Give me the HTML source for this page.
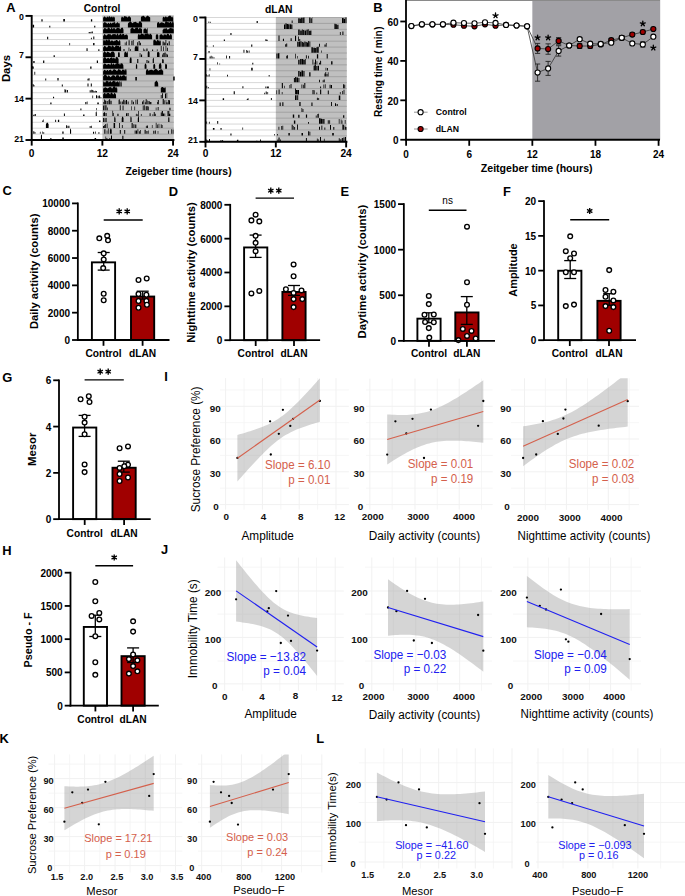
<!DOCTYPE html>
<html><head><meta charset="utf-8"><style>
html,body{margin:0;padding:0;background:#fff;width:685px;height:896px;overflow:hidden}
svg{display:block}
text{font-family:"Liberation Sans", sans-serif}
</style></head><body>
<svg width="685" height="896" viewBox="0 0 685 896" font-family='"Liberation Sans", sans-serif'><text x="6.30" y="11.60" font-size="12.9" font-weight="bold" text-anchor="start" fill="#000">A</text>
<text x="373.20" y="11.70" font-size="12.9" font-weight="bold" text-anchor="start" fill="#000">B</text>
<text x="2.50" y="195.40" font-size="12.9" font-weight="bold" text-anchor="start" fill="#000">C</text>
<text x="168.70" y="196.10" font-size="12.9" font-weight="bold" text-anchor="start" fill="#000">D</text>
<text x="340.50" y="196.10" font-size="12.9" font-weight="bold" text-anchor="start" fill="#000">E</text>
<text x="503.00" y="196.10" font-size="12.9" font-weight="bold" text-anchor="start" fill="#000">F</text>
<text x="2.30" y="381.50" font-size="12.9" font-weight="bold" text-anchor="start" fill="#000">G</text>
<text x="2.30" y="554.50" font-size="12.9" font-weight="bold" text-anchor="start" fill="#000">H</text>
<text x="164.30" y="381.00" font-size="12.9" font-weight="bold" text-anchor="start" fill="#000">I</text>
<text x="161.10" y="554.40" font-size="12.9" font-weight="bold" text-anchor="start" fill="#000">J</text>
<text x="-0.50" y="742.90" font-size="12.9" font-weight="bold" text-anchor="start" fill="#000">K</text>
<text x="316.30" y="742.90" font-size="12.9" font-weight="bold" text-anchor="start" fill="#000">L</text>
<rect x="91.90" y="262.35" width="23.20" height="77.65" fill="#fff" stroke="#000" stroke-width="1.9"/>
<rect x="131.00" y="296.55" width="23.20" height="43.45" fill="#a00000" stroke="#000" stroke-width="1.9"/>
<line x1="103.70" y1="252.50" x2="103.70" y2="270.10" stroke="#000" stroke-width="1.3"/>
<line x1="97.70" y1="252.50" x2="109.70" y2="252.50" stroke="#000" stroke-width="1.3"/>
<line x1="97.70" y1="270.10" x2="109.70" y2="270.10" stroke="#000" stroke-width="1.3"/>
<line x1="142.70" y1="291.20" x2="142.70" y2="299.10" stroke="#000" stroke-width="1.3"/>
<line x1="136.70" y1="291.20" x2="148.70" y2="291.20" stroke="#000" stroke-width="1.3"/>
<line x1="136.70" y1="299.10" x2="148.70" y2="299.10" stroke="#000" stroke-width="1.3"/>
<circle cx="99.30" cy="238.30" r="2.35" fill="#fff" stroke="#000" stroke-width="1.35"/>
<circle cx="107.20" cy="235.80" r="2.35" fill="#fff" stroke="#000" stroke-width="1.35"/>
<circle cx="108.00" cy="240.30" r="2.35" fill="#fff" stroke="#000" stroke-width="1.35"/>
<circle cx="103.70" cy="253.40" r="2.35" fill="#fff" stroke="#000" stroke-width="1.35"/>
<circle cx="103.70" cy="259.40" r="2.35" fill="#fff" stroke="#000" stroke-width="1.35"/>
<circle cx="103.20" cy="268.10" r="2.35" fill="#fff" stroke="#000" stroke-width="1.35"/>
<circle cx="103.70" cy="293.70" r="2.35" fill="#fff" stroke="#000" stroke-width="1.35"/>
<circle cx="103.70" cy="300.30" r="2.35" fill="#fff" stroke="#000" stroke-width="1.35"/>
<circle cx="138.50" cy="280.00" r="2.35" fill="#fff" stroke="#000" stroke-width="1.35"/>
<circle cx="146.70" cy="278.50" r="2.35" fill="#fff" stroke="#000" stroke-width="1.35"/>
<circle cx="138.50" cy="294.00" r="2.35" fill="#fff" stroke="#000" stroke-width="1.35"/>
<circle cx="146.40" cy="294.70" r="2.35" fill="#fff" stroke="#000" stroke-width="1.35"/>
<circle cx="138.50" cy="301.00" r="2.35" fill="#fff" stroke="#000" stroke-width="1.35"/>
<circle cx="146.40" cy="301.00" r="2.35" fill="#fff" stroke="#000" stroke-width="1.35"/>
<circle cx="138.50" cy="307.80" r="2.35" fill="#fff" stroke="#000" stroke-width="1.35"/>
<circle cx="146.90" cy="304.80" r="2.35" fill="#fff" stroke="#000" stroke-width="1.35"/>
<line x1="77.85" y1="202.50" x2="77.85" y2="340.90" stroke="#000" stroke-width="1.8"/>
<line x1="76.95" y1="340.00" x2="169.50" y2="340.00" stroke="#000" stroke-width="1.8"/>
<line x1="72.05" y1="340.00" x2="77.85" y2="340.00" stroke="#000" stroke-width="1.8"/>
<text x="70.05" y="343.98" font-size="10" font-weight="bold" text-anchor="end" fill="#000">0</text>
<line x1="72.05" y1="312.68" x2="77.85" y2="312.68" stroke="#000" stroke-width="1.8"/>
<text x="70.05" y="316.66" font-size="10" font-weight="bold" text-anchor="end" fill="#000">2000</text>
<line x1="72.05" y1="285.36" x2="77.85" y2="285.36" stroke="#000" stroke-width="1.8"/>
<text x="70.05" y="289.34" font-size="10" font-weight="bold" text-anchor="end" fill="#000">4000</text>
<line x1="72.05" y1="258.04" x2="77.85" y2="258.04" stroke="#000" stroke-width="1.8"/>
<text x="70.05" y="262.02" font-size="10" font-weight="bold" text-anchor="end" fill="#000">6000</text>
<line x1="72.05" y1="230.72" x2="77.85" y2="230.72" stroke="#000" stroke-width="1.8"/>
<text x="70.05" y="234.70" font-size="10" font-weight="bold" text-anchor="end" fill="#000">8000</text>
<line x1="72.05" y1="203.40" x2="77.85" y2="203.40" stroke="#000" stroke-width="1.8"/>
<text x="70.05" y="207.38" font-size="10" font-weight="bold" text-anchor="end" fill="#000">10000</text>
<line x1="103.50" y1="340.00" x2="103.50" y2="345.80" stroke="#000" stroke-width="1.8"/>
<text x="103.50" y="356.75" font-size="10.2" font-weight="bold" text-anchor="middle" fill="#000">Control</text>
<line x1="142.60" y1="340.00" x2="142.60" y2="345.80" stroke="#000" stroke-width="1.8"/>
<text x="142.60" y="356.75" font-size="10.2" font-weight="bold" text-anchor="middle" fill="#000">dLAN</text>
<line x1="103.70" y1="220.00" x2="142.70" y2="220.00" stroke="#000" stroke-width="1.4"/>
<path d="M119.20 208.30L119.20 214.50M116.52 209.85L121.88 212.95M121.88 209.85L116.52 212.95" stroke="#000" stroke-width="1.35" fill="none"/>
<path d="M127.20 208.30L127.20 214.50M124.52 209.85L129.88 212.95M129.88 209.85L124.52 212.95" stroke="#000" stroke-width="1.35" fill="none"/>
<text x="38.01" y="271.30" font-size="11.2" font-weight="bold" text-anchor="middle" fill="#000" transform="rotate(-90 38.01 271.30)">Daily activity (counts)</text>
<rect x="244.10" y="247.45" width="23.20" height="92.75" fill="#fff" stroke="#000" stroke-width="1.9"/>
<rect x="282.40" y="291.95" width="23.20" height="48.25" fill="#a00000" stroke="#000" stroke-width="1.9"/>
<line x1="255.60" y1="235.10" x2="255.60" y2="257.40" stroke="#000" stroke-width="1.3"/>
<line x1="249.60" y1="235.10" x2="261.60" y2="235.10" stroke="#000" stroke-width="1.3"/>
<line x1="249.60" y1="257.40" x2="261.60" y2="257.40" stroke="#000" stroke-width="1.3"/>
<line x1="294.00" y1="285.50" x2="294.00" y2="295.40" stroke="#000" stroke-width="1.3"/>
<line x1="288.00" y1="285.50" x2="300.00" y2="285.50" stroke="#000" stroke-width="1.3"/>
<line x1="288.00" y1="295.40" x2="300.00" y2="295.40" stroke="#000" stroke-width="1.3"/>
<circle cx="255.60" cy="214.70" r="2.35" fill="#fff" stroke="#000" stroke-width="1.35"/>
<circle cx="251.40" cy="220.40" r="2.35" fill="#fff" stroke="#000" stroke-width="1.35"/>
<circle cx="259.30" cy="221.40" r="2.35" fill="#fff" stroke="#000" stroke-width="1.35"/>
<circle cx="255.60" cy="235.80" r="2.35" fill="#fff" stroke="#000" stroke-width="1.35"/>
<circle cx="255.60" cy="242.80" r="2.35" fill="#fff" stroke="#000" stroke-width="1.35"/>
<circle cx="255.60" cy="251.20" r="2.35" fill="#fff" stroke="#000" stroke-width="1.35"/>
<circle cx="251.40" cy="293.40" r="2.35" fill="#fff" stroke="#000" stroke-width="1.35"/>
<circle cx="259.30" cy="290.90" r="2.35" fill="#fff" stroke="#000" stroke-width="1.35"/>
<circle cx="293.60" cy="264.40" r="2.35" fill="#fff" stroke="#000" stroke-width="1.35"/>
<circle cx="293.60" cy="276.30" r="2.35" fill="#fff" stroke="#000" stroke-width="1.35"/>
<circle cx="285.90" cy="289.20" r="2.35" fill="#fff" stroke="#000" stroke-width="1.35"/>
<circle cx="293.60" cy="292.90" r="2.35" fill="#fff" stroke="#000" stroke-width="1.35"/>
<circle cx="301.50" cy="290.40" r="2.35" fill="#fff" stroke="#000" stroke-width="1.35"/>
<circle cx="293.60" cy="299.10" r="2.35" fill="#fff" stroke="#000" stroke-width="1.35"/>
<circle cx="302.30" cy="299.10" r="2.35" fill="#fff" stroke="#000" stroke-width="1.35"/>
<circle cx="293.60" cy="307.10" r="2.35" fill="#fff" stroke="#000" stroke-width="1.35"/>
<line x1="230.20" y1="203.90" x2="230.20" y2="341.10" stroke="#000" stroke-width="1.8"/>
<line x1="229.30" y1="340.20" x2="320.10" y2="340.20" stroke="#000" stroke-width="1.8"/>
<line x1="224.40" y1="340.20" x2="230.20" y2="340.20" stroke="#000" stroke-width="1.8"/>
<text x="222.40" y="344.18" font-size="10" font-weight="bold" text-anchor="end" fill="#000">0</text>
<line x1="224.40" y1="306.35" x2="230.20" y2="306.35" stroke="#000" stroke-width="1.8"/>
<text x="222.40" y="310.33" font-size="10" font-weight="bold" text-anchor="end" fill="#000">2000</text>
<line x1="224.40" y1="272.50" x2="230.20" y2="272.50" stroke="#000" stroke-width="1.8"/>
<text x="222.40" y="276.48" font-size="10" font-weight="bold" text-anchor="end" fill="#000">4000</text>
<line x1="224.40" y1="238.65" x2="230.20" y2="238.65" stroke="#000" stroke-width="1.8"/>
<text x="222.40" y="242.63" font-size="10" font-weight="bold" text-anchor="end" fill="#000">6000</text>
<line x1="224.40" y1="204.80" x2="230.20" y2="204.80" stroke="#000" stroke-width="1.8"/>
<text x="222.40" y="208.78" font-size="10" font-weight="bold" text-anchor="end" fill="#000">8000</text>
<line x1="255.70" y1="340.20" x2="255.70" y2="346.00" stroke="#000" stroke-width="1.8"/>
<text x="255.70" y="356.75" font-size="10.2" font-weight="bold" text-anchor="middle" fill="#000">Control</text>
<line x1="294.00" y1="340.20" x2="294.00" y2="346.00" stroke="#000" stroke-width="1.8"/>
<text x="294.00" y="356.75" font-size="10.2" font-weight="bold" text-anchor="middle" fill="#000">dLAN</text>
<line x1="255.60" y1="198.10" x2="294.00" y2="198.10" stroke="#000" stroke-width="1.4"/>
<path d="M270.80 187.60L270.80 193.80M268.12 189.15L273.48 192.25M273.48 189.15L268.12 192.25" stroke="#000" stroke-width="1.35" fill="none"/>
<path d="M278.80 187.60L278.80 193.80M276.12 189.15L281.48 192.25M281.48 189.15L276.12 192.25" stroke="#000" stroke-width="1.35" fill="none"/>
<text x="195.01" y="272.50" font-size="11.2" font-weight="bold" text-anchor="middle" fill="#000" transform="rotate(-90 195.01 272.50)">Nighttime activity (counts)</text>
<rect x="417.40" y="318.65" width="23.20" height="22.20" fill="#fff" stroke="#000" stroke-width="1.9"/>
<rect x="455.30" y="312.45" width="23.20" height="28.40" fill="#a00000" stroke="#000" stroke-width="1.9"/>
<line x1="428.80" y1="312.80" x2="428.80" y2="322.70" stroke="#000" stroke-width="1.3"/>
<line x1="422.80" y1="312.80" x2="434.80" y2="312.80" stroke="#000" stroke-width="1.3"/>
<line x1="422.80" y1="322.70" x2="434.80" y2="322.70" stroke="#000" stroke-width="1.3"/>
<line x1="466.80" y1="296.60" x2="466.80" y2="324.40" stroke="#000" stroke-width="1.3"/>
<line x1="460.80" y1="296.60" x2="472.80" y2="296.60" stroke="#000" stroke-width="1.3"/>
<line x1="460.80" y1="324.40" x2="472.80" y2="324.40" stroke="#000" stroke-width="1.3"/>
<circle cx="428.80" cy="295.90" r="2.35" fill="#fff" stroke="#000" stroke-width="1.35"/>
<circle cx="428.80" cy="304.10" r="2.35" fill="#fff" stroke="#000" stroke-width="1.35"/>
<circle cx="425.10" cy="322.00" r="2.35" fill="#fff" stroke="#000" stroke-width="1.35"/>
<circle cx="433.80" cy="314.50" r="2.35" fill="#fff" stroke="#000" stroke-width="1.35"/>
<circle cx="433.80" cy="322.20" r="2.35" fill="#fff" stroke="#000" stroke-width="1.35"/>
<circle cx="428.80" cy="328.10" r="2.35" fill="#fff" stroke="#000" stroke-width="1.35"/>
<circle cx="429.30" cy="337.60" r="2.35" fill="#fff" stroke="#000" stroke-width="1.35"/>
<circle cx="424.50" cy="314.70" r="2.35" fill="#fff" stroke="#000" stroke-width="1.35"/>
<circle cx="467.00" cy="226.70" r="2.35" fill="#fff" stroke="#000" stroke-width="1.35"/>
<circle cx="467.00" cy="282.30" r="2.35" fill="#fff" stroke="#000" stroke-width="1.35"/>
<circle cx="467.00" cy="304.80" r="2.35" fill="#fff" stroke="#000" stroke-width="1.35"/>
<circle cx="462.80" cy="328.90" r="2.35" fill="#fff" stroke="#000" stroke-width="1.35"/>
<circle cx="471.50" cy="330.90" r="2.35" fill="#fff" stroke="#000" stroke-width="1.35"/>
<circle cx="467.00" cy="335.90" r="2.35" fill="#fff" stroke="#000" stroke-width="1.35"/>
<circle cx="458.40" cy="340.10" r="2.35" fill="#fff" stroke="#000" stroke-width="1.35"/>
<circle cx="475.70" cy="338.40" r="2.35" fill="#fff" stroke="#000" stroke-width="1.35"/>
<line x1="403.85" y1="203.20" x2="403.85" y2="341.75" stroke="#000" stroke-width="1.8"/>
<line x1="402.95" y1="340.85" x2="495.00" y2="340.85" stroke="#000" stroke-width="1.8"/>
<line x1="398.05" y1="340.85" x2="403.85" y2="340.85" stroke="#000" stroke-width="1.8"/>
<text x="396.05" y="344.83" font-size="10" font-weight="bold" text-anchor="end" fill="#000">0</text>
<line x1="398.05" y1="295.27" x2="403.85" y2="295.27" stroke="#000" stroke-width="1.8"/>
<text x="396.05" y="299.25" font-size="10" font-weight="bold" text-anchor="end" fill="#000">500</text>
<line x1="398.05" y1="249.68" x2="403.85" y2="249.68" stroke="#000" stroke-width="1.8"/>
<text x="396.05" y="253.66" font-size="10" font-weight="bold" text-anchor="end" fill="#000">1000</text>
<line x1="398.05" y1="204.10" x2="403.85" y2="204.10" stroke="#000" stroke-width="1.8"/>
<text x="396.05" y="208.08" font-size="10" font-weight="bold" text-anchor="end" fill="#000">1500</text>
<line x1="429.00" y1="340.85" x2="429.00" y2="346.65" stroke="#000" stroke-width="1.8"/>
<text x="429.00" y="356.75" font-size="10.2" font-weight="bold" text-anchor="middle" fill="#000">Control</text>
<line x1="466.90" y1="340.85" x2="466.90" y2="346.65" stroke="#000" stroke-width="1.8"/>
<text x="466.90" y="356.75" font-size="10.2" font-weight="bold" text-anchor="middle" fill="#000">dLAN</text>
<line x1="428.80" y1="210.30" x2="466.50" y2="210.30" stroke="#000" stroke-width="1.4"/>
<text x="447.65" y="203.58" font-size="10" text-anchor="middle" fill="#000">ns</text>
<text x="366.15" y="271.60" font-size="11.3" font-weight="bold" text-anchor="middle" fill="#000" transform="rotate(-90 366.15 271.60)">Daytime activity (counts)</text>
<rect x="558.20" y="270.75" width="23.20" height="69.45" fill="#fff" stroke="#000" stroke-width="1.9"/>
<rect x="597.40" y="300.85" width="23.20" height="39.35" fill="#a00000" stroke="#000" stroke-width="1.9"/>
<line x1="570.20" y1="260.60" x2="570.20" y2="278.50" stroke="#000" stroke-width="1.3"/>
<line x1="564.20" y1="260.60" x2="576.20" y2="260.60" stroke="#000" stroke-width="1.3"/>
<line x1="564.20" y1="278.50" x2="576.20" y2="278.50" stroke="#000" stroke-width="1.3"/>
<line x1="609.20" y1="293.70" x2="609.20" y2="305.30" stroke="#000" stroke-width="1.3"/>
<line x1="603.20" y1="293.70" x2="615.20" y2="293.70" stroke="#000" stroke-width="1.3"/>
<line x1="603.20" y1="305.30" x2="615.20" y2="305.30" stroke="#000" stroke-width="1.3"/>
<circle cx="570.20" cy="236.30" r="2.35" fill="#fff" stroke="#000" stroke-width="1.35"/>
<circle cx="565.80" cy="251.20" r="2.35" fill="#fff" stroke="#000" stroke-width="1.35"/>
<circle cx="574.00" cy="253.50" r="2.35" fill="#fff" stroke="#000" stroke-width="1.35"/>
<circle cx="570.20" cy="258.20" r="2.35" fill="#fff" stroke="#000" stroke-width="1.35"/>
<circle cx="565.80" cy="272.30" r="2.35" fill="#fff" stroke="#000" stroke-width="1.35"/>
<circle cx="574.00" cy="272.30" r="2.35" fill="#fff" stroke="#000" stroke-width="1.35"/>
<circle cx="565.80" cy="306.10" r="2.35" fill="#fff" stroke="#000" stroke-width="1.35"/>
<circle cx="574.00" cy="304.60" r="2.35" fill="#fff" stroke="#000" stroke-width="1.35"/>
<circle cx="609.20" cy="270.10" r="2.35" fill="#fff" stroke="#000" stroke-width="1.35"/>
<circle cx="605.50" cy="290.00" r="2.35" fill="#fff" stroke="#000" stroke-width="1.35"/>
<circle cx="613.40" cy="291.70" r="2.35" fill="#fff" stroke="#000" stroke-width="1.35"/>
<circle cx="605.50" cy="296.70" r="2.35" fill="#fff" stroke="#000" stroke-width="1.35"/>
<circle cx="613.40" cy="300.40" r="2.35" fill="#fff" stroke="#000" stroke-width="1.35"/>
<circle cx="605.50" cy="306.10" r="2.35" fill="#fff" stroke="#000" stroke-width="1.35"/>
<circle cx="613.40" cy="307.10" r="2.35" fill="#fff" stroke="#000" stroke-width="1.35"/>
<circle cx="609.20" cy="330.70" r="2.35" fill="#fff" stroke="#000" stroke-width="1.35"/>
<line x1="544.00" y1="200.20" x2="544.00" y2="341.10" stroke="#000" stroke-width="1.8"/>
<line x1="543.10" y1="340.20" x2="636.00" y2="340.20" stroke="#000" stroke-width="1.8"/>
<line x1="538.20" y1="340.20" x2="544.00" y2="340.20" stroke="#000" stroke-width="1.8"/>
<text x="536.20" y="344.18" font-size="10" font-weight="bold" text-anchor="end" fill="#000">0</text>
<line x1="538.20" y1="305.43" x2="544.00" y2="305.43" stroke="#000" stroke-width="1.8"/>
<text x="536.20" y="309.40" font-size="10" font-weight="bold" text-anchor="end" fill="#000">5</text>
<line x1="538.20" y1="270.65" x2="544.00" y2="270.65" stroke="#000" stroke-width="1.8"/>
<text x="536.20" y="274.63" font-size="10" font-weight="bold" text-anchor="end" fill="#000">10</text>
<line x1="538.20" y1="235.88" x2="544.00" y2="235.88" stroke="#000" stroke-width="1.8"/>
<text x="536.20" y="239.86" font-size="10" font-weight="bold" text-anchor="end" fill="#000">15</text>
<line x1="538.20" y1="201.10" x2="544.00" y2="201.10" stroke="#000" stroke-width="1.8"/>
<text x="536.20" y="205.08" font-size="10" font-weight="bold" text-anchor="end" fill="#000">20</text>
<line x1="569.80" y1="340.20" x2="569.80" y2="346.00" stroke="#000" stroke-width="1.8"/>
<text x="569.80" y="356.75" font-size="10.2" font-weight="bold" text-anchor="middle" fill="#000">Control</text>
<line x1="609.00" y1="340.20" x2="609.00" y2="346.00" stroke="#000" stroke-width="1.8"/>
<text x="609.00" y="356.75" font-size="10.2" font-weight="bold" text-anchor="middle" fill="#000">dLAN</text>
<line x1="570.20" y1="219.70" x2="609.20" y2="219.70" stroke="#000" stroke-width="1.4"/>
<path d="M589.70 207.90L589.70 214.10M587.02 209.45L592.38 212.55M592.38 209.45L587.02 212.55" stroke="#000" stroke-width="1.35" fill="none"/>
<text x="516.80" y="270.00" font-size="10.9" font-weight="bold" text-anchor="middle" fill="#000" transform="rotate(-90 516.80 270.00)">Amplitude</text>
<rect x="73.10" y="427.55" width="23.20" height="91.60" fill="#fff" stroke="#000" stroke-width="1.9"/>
<rect x="112.50" y="467.75" width="23.20" height="51.40" fill="#a00000" stroke="#000" stroke-width="1.9"/>
<line x1="84.60" y1="415.40" x2="84.60" y2="436.40" stroke="#000" stroke-width="1.3"/>
<line x1="78.60" y1="415.40" x2="90.60" y2="415.40" stroke="#000" stroke-width="1.3"/>
<line x1="78.60" y1="436.40" x2="90.60" y2="436.40" stroke="#000" stroke-width="1.3"/>
<line x1="123.80" y1="461.20" x2="123.80" y2="472.10" stroke="#000" stroke-width="1.3"/>
<line x1="117.80" y1="461.20" x2="129.80" y2="461.20" stroke="#000" stroke-width="1.3"/>
<line x1="117.80" y1="472.10" x2="129.80" y2="472.10" stroke="#000" stroke-width="1.3"/>
<circle cx="80.60" cy="399.30" r="2.35" fill="#fff" stroke="#000" stroke-width="1.35"/>
<circle cx="88.80" cy="396.20" r="2.35" fill="#fff" stroke="#000" stroke-width="1.35"/>
<circle cx="89.50" cy="402.00" r="2.35" fill="#fff" stroke="#000" stroke-width="1.35"/>
<circle cx="84.60" cy="416.80" r="2.35" fill="#fff" stroke="#000" stroke-width="1.35"/>
<circle cx="84.60" cy="422.60" r="2.35" fill="#fff" stroke="#000" stroke-width="1.35"/>
<circle cx="84.60" cy="434.30" r="2.35" fill="#fff" stroke="#000" stroke-width="1.35"/>
<circle cx="84.60" cy="464.40" r="2.35" fill="#fff" stroke="#000" stroke-width="1.35"/>
<circle cx="84.60" cy="472.10" r="2.35" fill="#fff" stroke="#000" stroke-width="1.35"/>
<circle cx="119.60" cy="448.30" r="2.35" fill="#fff" stroke="#000" stroke-width="1.35"/>
<circle cx="128.00" cy="446.40" r="2.35" fill="#fff" stroke="#000" stroke-width="1.35"/>
<circle cx="119.60" cy="467.90" r="2.35" fill="#fff" stroke="#000" stroke-width="1.35"/>
<circle cx="128.00" cy="464.70" r="2.35" fill="#fff" stroke="#000" stroke-width="1.35"/>
<circle cx="119.60" cy="474.00" r="2.35" fill="#fff" stroke="#000" stroke-width="1.35"/>
<circle cx="128.00" cy="477.50" r="2.35" fill="#fff" stroke="#000" stroke-width="1.35"/>
<circle cx="119.60" cy="481.00" r="2.35" fill="#fff" stroke="#000" stroke-width="1.35"/>
<circle cx="124.30" cy="466.30" r="2.35" fill="#fff" stroke="#000" stroke-width="1.35"/>
<line x1="59.00" y1="379.40" x2="59.00" y2="520.05" stroke="#000" stroke-width="1.8"/>
<line x1="58.10" y1="519.15" x2="150.70" y2="519.15" stroke="#000" stroke-width="1.8"/>
<line x1="53.20" y1="519.15" x2="59.00" y2="519.15" stroke="#000" stroke-width="1.8"/>
<text x="51.20" y="523.13" font-size="10" font-weight="bold" text-anchor="end" fill="#000">0</text>
<line x1="53.20" y1="472.87" x2="59.00" y2="472.87" stroke="#000" stroke-width="1.8"/>
<text x="51.20" y="476.85" font-size="10" font-weight="bold" text-anchor="end" fill="#000">2</text>
<line x1="53.20" y1="426.58" x2="59.00" y2="426.58" stroke="#000" stroke-width="1.8"/>
<text x="51.20" y="430.56" font-size="10" font-weight="bold" text-anchor="end" fill="#000">4</text>
<line x1="53.20" y1="380.30" x2="59.00" y2="380.30" stroke="#000" stroke-width="1.8"/>
<text x="51.20" y="384.28" font-size="10" font-weight="bold" text-anchor="end" fill="#000">6</text>
<line x1="84.70" y1="519.15" x2="84.70" y2="524.95" stroke="#000" stroke-width="1.8"/>
<text x="84.70" y="536.55" font-size="10.2" font-weight="bold" text-anchor="middle" fill="#000">Control</text>
<line x1="124.10" y1="519.15" x2="124.10" y2="524.95" stroke="#000" stroke-width="1.8"/>
<text x="124.10" y="536.55" font-size="10.2" font-weight="bold" text-anchor="middle" fill="#000">dLAN</text>
<line x1="84.60" y1="379.90" x2="123.80" y2="379.90" stroke="#000" stroke-width="1.4"/>
<path d="M100.20 368.60L100.20 374.80M97.52 370.15L102.88 373.25M102.88 370.15L97.52 373.25" stroke="#000" stroke-width="1.35" fill="none"/>
<path d="M108.20 368.60L108.20 374.80M105.52 370.15L110.88 373.25M110.88 370.15L105.52 373.25" stroke="#000" stroke-width="1.35" fill="none"/>
<text x="36.05" y="449.30" font-size="11.3" font-weight="bold" text-anchor="middle" fill="#000" transform="rotate(-90 36.05 449.30)">Mesor</text>
<rect x="83.80" y="626.95" width="23.20" height="78.70" fill="#fff" stroke="#000" stroke-width="1.9"/>
<rect x="121.50" y="656.15" width="23.20" height="49.50" fill="#a00000" stroke="#000" stroke-width="1.9"/>
<line x1="95.30" y1="615.20" x2="95.30" y2="636.50" stroke="#000" stroke-width="1.3"/>
<line x1="89.30" y1="615.20" x2="101.30" y2="615.20" stroke="#000" stroke-width="1.3"/>
<line x1="89.30" y1="636.50" x2="101.30" y2="636.50" stroke="#000" stroke-width="1.3"/>
<line x1="133.10" y1="647.90" x2="133.10" y2="662.50" stroke="#000" stroke-width="1.3"/>
<line x1="127.10" y1="647.90" x2="139.10" y2="647.90" stroke="#000" stroke-width="1.3"/>
<line x1="127.10" y1="662.50" x2="139.10" y2="662.50" stroke="#000" stroke-width="1.3"/>
<circle cx="95.30" cy="582.00" r="2.35" fill="#fff" stroke="#000" stroke-width="1.35"/>
<circle cx="95.30" cy="601.20" r="2.35" fill="#fff" stroke="#000" stroke-width="1.35"/>
<circle cx="91.60" cy="615.90" r="2.35" fill="#fff" stroke="#000" stroke-width="1.35"/>
<circle cx="99.30" cy="612.90" r="2.35" fill="#fff" stroke="#000" stroke-width="1.35"/>
<circle cx="99.30" cy="619.40" r="2.35" fill="#fff" stroke="#000" stroke-width="1.35"/>
<circle cx="95.30" cy="636.20" r="2.35" fill="#fff" stroke="#000" stroke-width="1.35"/>
<circle cx="95.30" cy="662.20" r="2.35" fill="#fff" stroke="#000" stroke-width="1.35"/>
<circle cx="95.30" cy="674.80" r="2.35" fill="#fff" stroke="#000" stroke-width="1.35"/>
<circle cx="133.10" cy="621.30" r="2.35" fill="#fff" stroke="#000" stroke-width="1.35"/>
<circle cx="133.10" cy="631.60" r="2.35" fill="#fff" stroke="#000" stroke-width="1.35"/>
<circle cx="133.10" cy="654.50" r="2.35" fill="#fff" stroke="#000" stroke-width="1.35"/>
<circle cx="128.90" cy="659.10" r="2.35" fill="#fff" stroke="#000" stroke-width="1.35"/>
<circle cx="137.40" cy="660.30" r="2.35" fill="#fff" stroke="#000" stroke-width="1.35"/>
<circle cx="133.10" cy="666.10" r="2.35" fill="#fff" stroke="#000" stroke-width="1.35"/>
<circle cx="128.90" cy="673.60" r="2.35" fill="#fff" stroke="#000" stroke-width="1.35"/>
<circle cx="137.40" cy="671.30" r="2.35" fill="#fff" stroke="#000" stroke-width="1.35"/>
<line x1="70.50" y1="571.80" x2="70.50" y2="706.55" stroke="#000" stroke-width="1.8"/>
<line x1="69.60" y1="705.65" x2="158.80" y2="705.65" stroke="#000" stroke-width="1.8"/>
<line x1="64.70" y1="705.65" x2="70.50" y2="705.65" stroke="#000" stroke-width="1.8"/>
<text x="62.70" y="709.63" font-size="10" font-weight="bold" text-anchor="end" fill="#000">0</text>
<line x1="64.70" y1="672.41" x2="70.50" y2="672.41" stroke="#000" stroke-width="1.8"/>
<text x="62.70" y="676.39" font-size="10" font-weight="bold" text-anchor="end" fill="#000">500</text>
<line x1="64.70" y1="639.17" x2="70.50" y2="639.17" stroke="#000" stroke-width="1.8"/>
<text x="62.70" y="643.15" font-size="10" font-weight="bold" text-anchor="end" fill="#000">1000</text>
<line x1="64.70" y1="605.94" x2="70.50" y2="605.94" stroke="#000" stroke-width="1.8"/>
<text x="62.70" y="609.92" font-size="10" font-weight="bold" text-anchor="end" fill="#000">1500</text>
<line x1="64.70" y1="572.70" x2="70.50" y2="572.70" stroke="#000" stroke-width="1.8"/>
<text x="62.70" y="576.68" font-size="10" font-weight="bold" text-anchor="end" fill="#000">2000</text>
<line x1="95.40" y1="705.65" x2="95.40" y2="711.45" stroke="#000" stroke-width="1.8"/>
<text x="95.40" y="722.65" font-size="10.2" font-weight="bold" text-anchor="middle" fill="#000">Control</text>
<line x1="133.10" y1="705.65" x2="133.10" y2="711.45" stroke="#000" stroke-width="1.8"/>
<text x="133.10" y="722.65" font-size="10.2" font-weight="bold" text-anchor="middle" fill="#000">dLAN</text>
<line x1="95.30" y1="565.70" x2="133.10" y2="565.70" stroke="#000" stroke-width="1.4"/>
<path d="M114.20 554.40L114.20 560.60M111.52 555.95L116.88 559.05M116.88 555.95L111.52 559.05" stroke="#000" stroke-width="1.35" fill="none"/>
<text x="32.47" y="639.90" font-size="10.8" font-weight="bold" text-anchor="middle" fill="#000" transform="rotate(-90 32.47 639.90)">Pseudo - F</text>
<rect x="532.34" y="0.00" width="127.84" height="139.75" fill="#a2a1a6" stroke="none" stroke-width="0"/>
<line x1="406.00" y1="0.50" x2="660.00" y2="0.50" stroke="#8a8a8a" stroke-width="1"/>
<line x1="537.60" y1="43.40" x2="537.60" y2="53.40" stroke="#222" stroke-width="0.9"/>
<line x1="535.00" y1="43.40" x2="540.20" y2="43.40" stroke="#222" stroke-width="0.9"/>
<line x1="535.00" y1="53.40" x2="540.20" y2="53.40" stroke="#222" stroke-width="0.9"/>
<line x1="548.12" y1="43.85" x2="548.12" y2="54.25" stroke="#222" stroke-width="0.9"/>
<line x1="545.52" y1="43.85" x2="550.72" y2="43.85" stroke="#222" stroke-width="0.9"/>
<line x1="545.52" y1="54.25" x2="550.72" y2="54.25" stroke="#222" stroke-width="0.9"/>
<line x1="558.64" y1="37.60" x2="558.64" y2="44.20" stroke="#222" stroke-width="0.9"/>
<line x1="556.04" y1="37.60" x2="561.24" y2="37.60" stroke="#222" stroke-width="0.9"/>
<line x1="556.04" y1="44.20" x2="561.24" y2="44.20" stroke="#222" stroke-width="0.9"/>
<line x1="569.16" y1="43.90" x2="569.16" y2="47.10" stroke="#222" stroke-width="0.9"/>
<line x1="566.56" y1="43.90" x2="571.76" y2="43.90" stroke="#222" stroke-width="0.9"/>
<line x1="566.56" y1="47.10" x2="571.76" y2="47.10" stroke="#222" stroke-width="0.9"/>
<line x1="579.68" y1="43.50" x2="579.68" y2="48.50" stroke="#222" stroke-width="0.9"/>
<line x1="577.08" y1="43.50" x2="582.28" y2="43.50" stroke="#222" stroke-width="0.9"/>
<line x1="577.08" y1="48.50" x2="582.28" y2="48.50" stroke="#222" stroke-width="0.9"/>
<line x1="590.20" y1="43.80" x2="590.20" y2="48.20" stroke="#222" stroke-width="0.9"/>
<line x1="587.60" y1="43.80" x2="592.80" y2="43.80" stroke="#222" stroke-width="0.9"/>
<line x1="587.60" y1="48.20" x2="592.80" y2="48.20" stroke="#222" stroke-width="0.9"/>
<line x1="600.72" y1="42.40" x2="600.72" y2="46.40" stroke="#222" stroke-width="0.9"/>
<line x1="598.12" y1="42.40" x2="603.32" y2="42.40" stroke="#222" stroke-width="0.9"/>
<line x1="598.12" y1="46.40" x2="603.32" y2="46.40" stroke="#222" stroke-width="0.9"/>
<line x1="611.24" y1="38.40" x2="611.24" y2="42.00" stroke="#222" stroke-width="0.9"/>
<line x1="608.64" y1="38.40" x2="613.84" y2="38.40" stroke="#222" stroke-width="0.9"/>
<line x1="608.64" y1="42.00" x2="613.84" y2="42.00" stroke="#222" stroke-width="0.9"/>
<line x1="621.76" y1="35.80" x2="621.76" y2="39.80" stroke="#222" stroke-width="0.9"/>
<line x1="619.16" y1="35.80" x2="624.36" y2="35.80" stroke="#222" stroke-width="0.9"/>
<line x1="619.16" y1="39.80" x2="624.36" y2="39.80" stroke="#222" stroke-width="0.9"/>
<line x1="632.28" y1="32.80" x2="632.28" y2="36.40" stroke="#222" stroke-width="0.9"/>
<line x1="629.68" y1="32.80" x2="634.88" y2="32.80" stroke="#222" stroke-width="0.9"/>
<line x1="629.68" y1="36.40" x2="634.88" y2="36.40" stroke="#222" stroke-width="0.9"/>
<line x1="642.80" y1="30.20" x2="642.80" y2="33.80" stroke="#222" stroke-width="0.9"/>
<line x1="640.20" y1="30.20" x2="645.40" y2="30.20" stroke="#222" stroke-width="0.9"/>
<line x1="640.20" y1="33.80" x2="645.40" y2="33.80" stroke="#222" stroke-width="0.9"/>
<line x1="537.60" y1="64.00" x2="537.60" y2="81.20" stroke="#222" stroke-width="0.9"/>
<line x1="535.00" y1="64.00" x2="540.20" y2="64.00" stroke="#222" stroke-width="0.9"/>
<line x1="535.00" y1="81.20" x2="540.20" y2="81.20" stroke="#222" stroke-width="0.9"/>
<line x1="548.12" y1="61.40" x2="548.12" y2="75.40" stroke="#222" stroke-width="0.9"/>
<line x1="545.52" y1="61.40" x2="550.72" y2="61.40" stroke="#222" stroke-width="0.9"/>
<line x1="545.52" y1="75.40" x2="550.72" y2="75.40" stroke="#222" stroke-width="0.9"/>
<line x1="558.64" y1="45.70" x2="558.64" y2="56.10" stroke="#222" stroke-width="0.9"/>
<line x1="556.04" y1="45.70" x2="561.24" y2="45.70" stroke="#222" stroke-width="0.9"/>
<line x1="556.04" y1="56.10" x2="561.24" y2="56.10" stroke="#222" stroke-width="0.9"/>
<line x1="569.16" y1="43.70" x2="569.16" y2="47.30" stroke="#222" stroke-width="0.9"/>
<line x1="566.56" y1="43.70" x2="571.76" y2="43.70" stroke="#222" stroke-width="0.9"/>
<line x1="566.56" y1="47.30" x2="571.76" y2="47.30" stroke="#222" stroke-width="0.9"/>
<line x1="579.68" y1="37.70" x2="579.68" y2="40.70" stroke="#222" stroke-width="0.9"/>
<line x1="577.08" y1="37.70" x2="582.28" y2="37.70" stroke="#222" stroke-width="0.9"/>
<line x1="577.08" y1="40.70" x2="582.28" y2="40.70" stroke="#222" stroke-width="0.9"/>
<line x1="590.20" y1="42.20" x2="590.20" y2="45.20" stroke="#222" stroke-width="0.9"/>
<line x1="587.60" y1="42.20" x2="592.80" y2="42.20" stroke="#222" stroke-width="0.9"/>
<line x1="587.60" y1="45.20" x2="592.80" y2="45.20" stroke="#222" stroke-width="0.9"/>
<line x1="600.72" y1="42.10" x2="600.72" y2="45.70" stroke="#222" stroke-width="0.9"/>
<line x1="598.12" y1="42.10" x2="603.32" y2="42.10" stroke="#222" stroke-width="0.9"/>
<line x1="598.12" y1="45.70" x2="603.32" y2="45.70" stroke="#222" stroke-width="0.9"/>
<line x1="611.24" y1="41.10" x2="611.24" y2="44.30" stroke="#222" stroke-width="0.9"/>
<line x1="608.64" y1="41.10" x2="613.84" y2="41.10" stroke="#222" stroke-width="0.9"/>
<line x1="608.64" y1="44.30" x2="613.84" y2="44.30" stroke="#222" stroke-width="0.9"/>
<line x1="621.76" y1="35.80" x2="621.76" y2="39.80" stroke="#222" stroke-width="0.9"/>
<line x1="619.16" y1="35.80" x2="624.36" y2="35.80" stroke="#222" stroke-width="0.9"/>
<line x1="619.16" y1="39.80" x2="624.36" y2="39.80" stroke="#222" stroke-width="0.9"/>
<line x1="632.28" y1="41.60" x2="632.28" y2="45.20" stroke="#222" stroke-width="0.9"/>
<line x1="629.68" y1="41.60" x2="634.88" y2="41.60" stroke="#222" stroke-width="0.9"/>
<line x1="629.68" y1="45.20" x2="634.88" y2="45.20" stroke="#222" stroke-width="0.9"/>
<line x1="642.80" y1="41.80" x2="642.80" y2="47.00" stroke="#222" stroke-width="0.9"/>
<line x1="640.20" y1="41.80" x2="645.40" y2="41.80" stroke="#222" stroke-width="0.9"/>
<line x1="640.20" y1="47.00" x2="645.40" y2="47.00" stroke="#222" stroke-width="0.9"/>
<path d="M411.36 26.00 L421.88 24.40 L432.40 24.40 L442.92 24.40 L453.44 24.70 L463.96 25.70 L474.48 26.30 L485.00 24.30 L495.52 25.70 L506.04 24.90 L516.56 25.50 L527.08 26.30 L537.60 48.40 L548.12 49.05 L558.64 40.90 L569.16 45.50 L579.68 46.00 L590.20 46.00 L600.72 44.40 L611.24 40.20 L621.76 37.80 L632.28 34.60 L642.80 32.00 L653.32 29.00" fill="none" stroke="#333" stroke-width="0.8"/>
<path d="M411.36 26.10 L421.88 24.30 L432.40 24.30 L442.92 24.30 L453.44 22.70 L463.96 23.10 L474.48 23.30 L485.00 22.30 L495.52 22.90 L506.04 24.90 L516.56 25.50 L527.08 26.30 L537.60 72.60 L548.12 68.40 L558.64 50.90 L569.16 45.50 L579.68 39.20 L590.20 43.70 L600.72 43.90 L611.24 42.70 L621.76 37.80 L632.28 43.40 L642.80 44.40 L653.32 36.70" fill="none" stroke="#333" stroke-width="0.8"/>
<circle cx="411.36" cy="26.00" r="2.55" fill="#a00000" stroke="#000" stroke-width="1.1"/>
<circle cx="421.88" cy="24.40" r="2.55" fill="#a00000" stroke="#000" stroke-width="1.1"/>
<circle cx="432.40" cy="24.40" r="2.55" fill="#a00000" stroke="#000" stroke-width="1.1"/>
<circle cx="442.92" cy="24.40" r="2.55" fill="#a00000" stroke="#000" stroke-width="1.1"/>
<circle cx="453.44" cy="24.70" r="2.55" fill="#a00000" stroke="#000" stroke-width="1.1"/>
<circle cx="463.96" cy="25.70" r="2.55" fill="#a00000" stroke="#000" stroke-width="1.1"/>
<circle cx="474.48" cy="26.30" r="2.55" fill="#a00000" stroke="#000" stroke-width="1.1"/>
<circle cx="485.00" cy="24.30" r="2.55" fill="#a00000" stroke="#000" stroke-width="1.1"/>
<circle cx="495.52" cy="25.70" r="2.55" fill="#a00000" stroke="#000" stroke-width="1.1"/>
<circle cx="506.04" cy="24.90" r="2.55" fill="#a00000" stroke="#000" stroke-width="1.1"/>
<circle cx="516.56" cy="25.50" r="2.55" fill="#a00000" stroke="#000" stroke-width="1.1"/>
<circle cx="527.08" cy="26.30" r="2.55" fill="#a00000" stroke="#000" stroke-width="1.1"/>
<circle cx="537.60" cy="48.40" r="2.55" fill="#a00000" stroke="#000" stroke-width="1.1"/>
<circle cx="548.12" cy="49.05" r="2.55" fill="#a00000" stroke="#000" stroke-width="1.1"/>
<circle cx="558.64" cy="40.90" r="2.55" fill="#a00000" stroke="#000" stroke-width="1.1"/>
<circle cx="569.16" cy="45.50" r="2.55" fill="#a00000" stroke="#000" stroke-width="1.1"/>
<circle cx="579.68" cy="46.00" r="2.55" fill="#a00000" stroke="#000" stroke-width="1.1"/>
<circle cx="590.20" cy="46.00" r="2.55" fill="#a00000" stroke="#000" stroke-width="1.1"/>
<circle cx="600.72" cy="44.40" r="2.55" fill="#a00000" stroke="#000" stroke-width="1.1"/>
<circle cx="611.24" cy="40.20" r="2.55" fill="#a00000" stroke="#000" stroke-width="1.1"/>
<circle cx="621.76" cy="37.80" r="2.55" fill="#a00000" stroke="#000" stroke-width="1.1"/>
<circle cx="632.28" cy="34.60" r="2.55" fill="#a00000" stroke="#000" stroke-width="1.1"/>
<circle cx="642.80" cy="32.00" r="2.55" fill="#a00000" stroke="#000" stroke-width="1.1"/>
<circle cx="653.32" cy="29.00" r="2.55" fill="#a00000" stroke="#000" stroke-width="1.1"/>
<circle cx="411.36" cy="26.10" r="2.55" fill="#fff" stroke="#000" stroke-width="1.1"/>
<circle cx="421.88" cy="24.30" r="2.55" fill="#fff" stroke="#000" stroke-width="1.1"/>
<circle cx="432.40" cy="24.30" r="2.55" fill="#fff" stroke="#000" stroke-width="1.1"/>
<circle cx="442.92" cy="24.30" r="2.55" fill="#fff" stroke="#000" stroke-width="1.1"/>
<circle cx="453.44" cy="22.70" r="2.55" fill="#fff" stroke="#000" stroke-width="1.1"/>
<circle cx="463.96" cy="23.10" r="2.55" fill="#fff" stroke="#000" stroke-width="1.1"/>
<circle cx="474.48" cy="23.30" r="2.55" fill="#fff" stroke="#000" stroke-width="1.1"/>
<circle cx="485.00" cy="22.30" r="2.55" fill="#fff" stroke="#000" stroke-width="1.1"/>
<circle cx="495.52" cy="22.90" r="2.55" fill="#fff" stroke="#000" stroke-width="1.1"/>
<circle cx="506.04" cy="24.90" r="2.55" fill="#fff" stroke="#000" stroke-width="1.1"/>
<circle cx="516.56" cy="25.50" r="2.55" fill="#fff" stroke="#000" stroke-width="1.1"/>
<circle cx="527.08" cy="26.30" r="2.55" fill="#fff" stroke="#000" stroke-width="1.1"/>
<circle cx="537.60" cy="72.60" r="2.55" fill="#fff" stroke="#000" stroke-width="1.1"/>
<circle cx="548.12" cy="68.40" r="2.55" fill="#fff" stroke="#000" stroke-width="1.1"/>
<circle cx="558.64" cy="50.90" r="2.55" fill="#fff" stroke="#000" stroke-width="1.1"/>
<circle cx="569.16" cy="45.50" r="2.55" fill="#fff" stroke="#000" stroke-width="1.1"/>
<circle cx="579.68" cy="39.20" r="2.55" fill="#fff" stroke="#000" stroke-width="1.1"/>
<circle cx="590.20" cy="43.70" r="2.55" fill="#fff" stroke="#000" stroke-width="1.1"/>
<circle cx="600.72" cy="43.90" r="2.55" fill="#fff" stroke="#000" stroke-width="1.1"/>
<circle cx="611.24" cy="42.70" r="2.55" fill="#fff" stroke="#000" stroke-width="1.1"/>
<circle cx="621.76" cy="37.80" r="2.55" fill="#fff" stroke="#000" stroke-width="1.1"/>
<circle cx="632.28" cy="43.40" r="2.55" fill="#fff" stroke="#000" stroke-width="1.1"/>
<circle cx="642.80" cy="44.40" r="2.55" fill="#fff" stroke="#000" stroke-width="1.1"/>
<circle cx="653.32" cy="36.70" r="2.55" fill="#fff" stroke="#000" stroke-width="1.1"/>
<path d="M495.52 15.56L495.52 12.96M495.52 15.56L497.99 14.76M495.52 15.56L497.05 17.66M495.52 15.56L493.99 17.66M495.52 15.56L493.05 14.76" stroke="#000" stroke-width="1.32" fill="none" stroke-linecap="round"/>
<path d="M537.60 37.66L537.60 35.06M537.60 37.66L540.07 36.86M537.60 37.66L539.13 39.76M537.60 37.66L536.07 39.76M537.60 37.66L535.13 36.86" stroke="#000" stroke-width="1.32" fill="none" stroke-linecap="round"/>
<path d="M548.12 37.66L548.12 35.06M548.12 37.66L550.59 36.86M548.12 37.66L549.65 39.76M548.12 37.66L546.59 39.76M548.12 37.66L545.65 36.86" stroke="#000" stroke-width="1.32" fill="none" stroke-linecap="round"/>
<path d="M642.80 23.66L642.80 21.06M642.80 23.66L645.27 22.86M642.80 23.66L644.33 25.76M642.80 23.66L641.27 25.76M642.80 23.66L640.33 22.86" stroke="#000" stroke-width="1.32" fill="none" stroke-linecap="round"/>
<path d="M653.32 47.86L653.32 45.26M653.32 47.86L655.79 47.06M653.32 47.86L654.85 49.96M653.32 47.86L651.79 49.96M653.32 47.86L650.85 47.06" stroke="#000" stroke-width="1.32" fill="none" stroke-linecap="round"/>
<line x1="406.00" y1="0.00" x2="406.00" y2="140.60" stroke="#000" stroke-width="1.8"/>
<line x1="405.10" y1="139.75" x2="660.00" y2="139.75" stroke="#000" stroke-width="1.8"/>
<line x1="400.30" y1="139.75" x2="406.00" y2="139.75" stroke="#000" stroke-width="1.8"/>
<text x="398.60" y="143.93" font-size="10" font-weight="bold" text-anchor="end" fill="#000">0</text>
<line x1="400.30" y1="100.33" x2="406.00" y2="100.33" stroke="#000" stroke-width="1.8"/>
<text x="398.60" y="104.51" font-size="10" font-weight="bold" text-anchor="end" fill="#000">20</text>
<line x1="400.30" y1="60.91" x2="406.00" y2="60.91" stroke="#000" stroke-width="1.8"/>
<text x="398.60" y="65.09" font-size="10" font-weight="bold" text-anchor="end" fill="#000">40</text>
<line x1="400.30" y1="21.49" x2="406.00" y2="21.49" stroke="#000" stroke-width="1.8"/>
<text x="398.60" y="25.67" font-size="10" font-weight="bold" text-anchor="end" fill="#000">60</text>
<line x1="406.10" y1="139.75" x2="406.10" y2="145.80" stroke="#000" stroke-width="1.8"/>
<text x="406.10" y="157.98" font-size="10" font-weight="bold" text-anchor="middle" fill="#000">0</text>
<line x1="469.22" y1="139.75" x2="469.22" y2="145.80" stroke="#000" stroke-width="1.8"/>
<text x="469.22" y="157.98" font-size="10" font-weight="bold" text-anchor="middle" fill="#000">6</text>
<line x1="532.34" y1="139.75" x2="532.34" y2="145.80" stroke="#000" stroke-width="1.8"/>
<text x="532.34" y="157.98" font-size="10" font-weight="bold" text-anchor="middle" fill="#000">12</text>
<line x1="595.46" y1="139.75" x2="595.46" y2="145.80" stroke="#000" stroke-width="1.8"/>
<text x="595.46" y="157.98" font-size="10" font-weight="bold" text-anchor="middle" fill="#000">18</text>
<line x1="658.58" y1="139.75" x2="658.58" y2="145.80" stroke="#000" stroke-width="1.8"/>
<text x="658.58" y="157.98" font-size="10" font-weight="bold" text-anchor="middle" fill="#000">24</text>
<text x="536.70" y="172.29" font-size="10.6" font-weight="bold" text-anchor="middle" fill="#000">Zeitgeber time (hours)</text>
<text transform="translate(382.3 116.9) rotate(-90)" font-size="10.05" font-weight="bold">Resting time<tspan dx="2.8">(</tspan><tspan dx="2.2">min</tspan><tspan dx="0.6">)</tspan></text>
<line x1="414.00" y1="112.20" x2="427.60" y2="112.20" stroke="#888" stroke-width="0.9"/>
<circle cx="420.60" cy="112.20" r="2.55" fill="#fff" stroke="#000" stroke-width="1.1"/>
<line x1="414.00" y1="129.00" x2="427.60" y2="129.00" stroke="#888" stroke-width="0.9"/>
<circle cx="420.60" cy="129.00" r="2.55" fill="#a00000" stroke="#000" stroke-width="1.1"/>
<text x="435.80" y="115.31" font-size="8.7" font-weight="bold" text-anchor="start" fill="#000">Control</text>
<text x="435.80" y="132.11" font-size="8.7" font-weight="bold" text-anchor="start" fill="#000">dLAN</text>
<rect x="102.38" y="15.90" width="71.42" height="124.11" fill="#c0c0c0" stroke="none" stroke-width="0"/>
<line x1="31.70" y1="15.90" x2="102.38" y2="15.90" stroke="#cdcdcd" stroke-width="0.8"/>
<line x1="102.38" y1="15.90" x2="173.80" y2="15.90" stroke="#9a9a9a" stroke-width="0.8"/>
<line x1="31.70" y1="21.81" x2="102.38" y2="21.81" stroke="#cdcdcd" stroke-width="0.8"/>
<line x1="102.38" y1="21.81" x2="173.80" y2="21.81" stroke="#9a9a9a" stroke-width="0.8"/>
<line x1="31.70" y1="27.72" x2="102.38" y2="27.72" stroke="#cdcdcd" stroke-width="0.8"/>
<line x1="102.38" y1="27.72" x2="173.80" y2="27.72" stroke="#9a9a9a" stroke-width="0.8"/>
<line x1="31.70" y1="33.63" x2="102.38" y2="33.63" stroke="#cdcdcd" stroke-width="0.8"/>
<line x1="102.38" y1="33.63" x2="173.80" y2="33.63" stroke="#9a9a9a" stroke-width="0.8"/>
<line x1="31.70" y1="39.54" x2="102.38" y2="39.54" stroke="#cdcdcd" stroke-width="0.8"/>
<line x1="102.38" y1="39.54" x2="173.80" y2="39.54" stroke="#9a9a9a" stroke-width="0.8"/>
<line x1="31.70" y1="45.45" x2="102.38" y2="45.45" stroke="#cdcdcd" stroke-width="0.8"/>
<line x1="102.38" y1="45.45" x2="173.80" y2="45.45" stroke="#9a9a9a" stroke-width="0.8"/>
<line x1="31.70" y1="51.36" x2="102.38" y2="51.36" stroke="#cdcdcd" stroke-width="0.8"/>
<line x1="102.38" y1="51.36" x2="173.80" y2="51.36" stroke="#9a9a9a" stroke-width="0.8"/>
<line x1="31.70" y1="57.27" x2="102.38" y2="57.27" stroke="#cdcdcd" stroke-width="0.8"/>
<line x1="102.38" y1="57.27" x2="173.80" y2="57.27" stroke="#9a9a9a" stroke-width="0.8"/>
<line x1="31.70" y1="63.18" x2="102.38" y2="63.18" stroke="#cdcdcd" stroke-width="0.8"/>
<line x1="102.38" y1="63.18" x2="173.80" y2="63.18" stroke="#9a9a9a" stroke-width="0.8"/>
<line x1="31.70" y1="69.09" x2="102.38" y2="69.09" stroke="#cdcdcd" stroke-width="0.8"/>
<line x1="102.38" y1="69.09" x2="173.80" y2="69.09" stroke="#9a9a9a" stroke-width="0.8"/>
<line x1="31.70" y1="75.00" x2="102.38" y2="75.00" stroke="#cdcdcd" stroke-width="0.8"/>
<line x1="102.38" y1="75.00" x2="173.80" y2="75.00" stroke="#9a9a9a" stroke-width="0.8"/>
<line x1="31.70" y1="80.91" x2="102.38" y2="80.91" stroke="#cdcdcd" stroke-width="0.8"/>
<line x1="102.38" y1="80.91" x2="173.80" y2="80.91" stroke="#9a9a9a" stroke-width="0.8"/>
<line x1="31.70" y1="86.82" x2="102.38" y2="86.82" stroke="#cdcdcd" stroke-width="0.8"/>
<line x1="102.38" y1="86.82" x2="173.80" y2="86.82" stroke="#9a9a9a" stroke-width="0.8"/>
<line x1="31.70" y1="92.73" x2="102.38" y2="92.73" stroke="#cdcdcd" stroke-width="0.8"/>
<line x1="102.38" y1="92.73" x2="173.80" y2="92.73" stroke="#9a9a9a" stroke-width="0.8"/>
<line x1="31.70" y1="98.64" x2="102.38" y2="98.64" stroke="#cdcdcd" stroke-width="0.8"/>
<line x1="102.38" y1="98.64" x2="173.80" y2="98.64" stroke="#9a9a9a" stroke-width="0.8"/>
<line x1="31.70" y1="104.55" x2="102.38" y2="104.55" stroke="#cdcdcd" stroke-width="0.8"/>
<line x1="102.38" y1="104.55" x2="173.80" y2="104.55" stroke="#9a9a9a" stroke-width="0.8"/>
<line x1="31.70" y1="110.46" x2="102.38" y2="110.46" stroke="#cdcdcd" stroke-width="0.8"/>
<line x1="102.38" y1="110.46" x2="173.80" y2="110.46" stroke="#9a9a9a" stroke-width="0.8"/>
<line x1="31.70" y1="116.37" x2="102.38" y2="116.37" stroke="#cdcdcd" stroke-width="0.8"/>
<line x1="102.38" y1="116.37" x2="173.80" y2="116.37" stroke="#9a9a9a" stroke-width="0.8"/>
<line x1="31.70" y1="122.28" x2="102.38" y2="122.28" stroke="#cdcdcd" stroke-width="0.8"/>
<line x1="102.38" y1="122.28" x2="173.80" y2="122.28" stroke="#9a9a9a" stroke-width="0.8"/>
<line x1="31.70" y1="128.19" x2="102.38" y2="128.19" stroke="#cdcdcd" stroke-width="0.8"/>
<line x1="102.38" y1="128.19" x2="173.80" y2="128.19" stroke="#9a9a9a" stroke-width="0.8"/>
<line x1="31.70" y1="134.10" x2="102.38" y2="134.10" stroke="#cdcdcd" stroke-width="0.8"/>
<line x1="102.38" y1="134.10" x2="173.80" y2="134.10" stroke="#9a9a9a" stroke-width="0.8"/>
<line x1="31.70" y1="140.01" x2="102.38" y2="140.01" stroke="#cdcdcd" stroke-width="0.8"/>
<line x1="102.38" y1="140.01" x2="173.80" y2="140.01" stroke="#9a9a9a" stroke-width="0.8"/>
<path d="M103.1 21.5L103.1 17.8L103.7 17.3L104.3 16.4L104.9 16.6L105.6 17.3L106.2 17.9L106.2 18.1L106.9 16.8L107.6 16.4L108.3 17.5L108.3 17.8L108.9 16.3L109.5 16.3L110.2 16.8L110.8 17.6L110.8 17.7L111.5 16.4L112.2 16.4L112.9 17.7L112.9 17.9L113.6 16.4L114.2 16.7L114.9 17.9L114.9 21.5zM121.1 21.5L121.1 18.2L121.8 16.5L122.5 16.7L123.3 18.1L123.3 17.9L123.9 16.5L124.6 16.1L125.3 16.4L126.0 16.2L126.6 16.8L127.3 17.5L127.3 17.5L127.9 17.3L128.5 16.5L129.2 16.1L129.8 16.8L130.4 16.9L131.0 18.2L131.0 21.5zM140.9 21.5L140.9 17.5L141.5 16.3L142.1 16.4L142.8 15.7L143.4 15.8L144.0 16.1L144.6 16.7L145.2 17.3L145.2 17.6L145.9 17.3L146.5 16.3L147.1 16.1L147.7 15.6L148.3 15.9L149.0 16.7L149.6 17.0L150.2 17.6L150.2 21.5zM162.6 21.5L162.6 18.0L163.3 16.7L164.0 16.8L164.7 17.6L164.7 18.0L165.3 16.3L165.9 16.8L166.5 16.7L167.1 17.8L167.1 17.2L167.8 16.9L168.4 16.3L169.1 16.1L169.7 15.4L170.3 15.4L171.0 16.6L171.6 17.0L172.2 17.7L172.2 17.7L172.5 16.5L172.9 16.8L173.2 17.8L173.2 21.5zM41.4 21.5h1.2v-2.2h-1.2zM63.3 21.5h1.6v-2.4h-1.6zM90.9 21.5h1.3v-2.3h-1.3zM103.1 27.4L103.1 23.6L103.7 22.8L104.3 22.3L104.9 22.2L105.6 22.6L106.2 22.7L106.8 23.4L107.4 23.8L107.4 24.1L108.2 22.9L108.9 22.7L109.6 24.2L109.6 24.1L110.3 22.6L111.0 22.9L111.6 23.6L111.6 24.0L112.3 23.1L113.0 22.6L113.7 22.7L114.4 22.1L115.1 22.5L115.8 23.9L115.8 24.2L116.4 23.1L117.0 22.8L117.6 22.1L118.3 22.9L118.9 23.4L119.5 23.6L119.5 23.8L119.6 22.9L119.7 22.5L119.8 23.5L119.8 27.4zM127.9 27.4L127.9 23.7L128.5 22.8L129.1 22.6L129.8 21.7L130.4 21.8L131.0 21.7L131.6 22.4L132.3 22.9L132.9 23.3L132.9 23.2L133.5 22.3L134.1 21.9L134.7 22.2L135.3 21.7L135.9 21.9L136.5 22.4L137.1 22.7L137.7 22.9L138.3 23.6L138.3 23.4L139.0 21.9L139.6 21.3L140.2 21.1L140.9 22.0L141.5 22.6L142.1 23.6L142.1 27.4zM157.0 27.4L157.0 23.7L157.7 22.2L158.4 22.0L159.1 22.6L159.7 23.7L159.7 23.8L160.4 22.7L161.1 22.4L161.8 22.2L162.5 22.4L163.2 22.9L163.8 22.8L164.5 24.0L164.5 23.4L165.1 22.6L165.7 21.5L166.3 21.5L166.9 22.0L167.5 22.1L168.1 22.4L168.7 22.1L169.3 23.1L169.3 23.1L170.0 21.9L170.6 21.9L171.2 22.1L171.8 23.7L171.8 23.2L172.5 21.8L173.1 21.3L173.8 23.4L173.8 27.4zM32.6 27.4h1.5v-2.6h-1.5zM49.3 27.4h1.0v-1.7h-1.0zM94.2 27.4h1.1v-1.7h-1.1zM103.1 33.3L103.1 29.8L103.7 29.1L104.4 27.9L105.1 28.3L105.8 28.3L106.4 28.7L107.1 29.4L107.1 29.3L107.8 28.1L108.5 27.6L109.2 28.2L109.9 28.2L110.6 29.5L110.6 29.6L111.3 27.9L111.9 27.6L112.6 29.3L112.6 29.5L113.2 28.1L113.9 28.4L114.5 27.9L115.1 28.7L115.7 29.7L115.7 29.5L116.4 28.4L117.1 27.8L117.8 28.0L118.4 27.9L119.1 28.2L119.8 28.6L120.4 29.4L120.4 29.5L121.1 28.0L121.7 27.8L122.3 27.6L122.9 28.0L123.5 29.7L123.5 33.3zM130.4 33.3L130.4 29.0L131.0 28.6L131.7 28.1L132.3 27.6L133.0 28.2L133.7 28.5L134.3 29.6L134.3 29.1L134.9 28.8L135.6 27.7L136.2 27.6L136.8 28.1L137.4 27.6L138.0 28.0L138.7 29.6L138.7 29.6L139.4 28.1L140.1 27.7L140.8 28.4L141.4 28.6L142.1 29.6L142.1 33.3zM143.4 33.3L143.4 29.9L144.0 28.5L144.7 28.7L145.3 28.2L145.9 28.7L146.6 30.1L146.6 29.5L147.0 28.5L147.3 27.5L147.7 29.3L147.7 33.3zM162.6 33.3L162.6 30.0L163.2 29.5L163.8 28.4L164.4 28.6L165.0 28.7L165.6 28.4L166.2 28.0L166.8 28.4L167.4 29.3L168.0 30.0L168.0 29.4L168.7 29.1L169.3 28.7L170.0 27.8L170.6 28.0L171.3 28.4L171.9 27.8L172.6 28.6L173.2 29.3L173.2 29.7L173.4 27.4L173.6 27.8L173.8 29.5L173.8 33.3zM88.7 33.3h0.9v-1.4h-0.9zM89.7 33.3h0.9v-1.1h-0.9zM90.8 33.3h0.6v-1.5h-0.6zM91.8 33.3h1.0v-1.8h-1.0zM103.1 39.2L103.1 35.9L103.7 35.2L104.4 34.1L105.0 34.3L105.6 35.0L106.3 35.8L106.3 35.5L106.9 35.0L107.6 34.5L108.3 33.9L108.9 34.3L109.6 34.3L110.2 34.3L110.9 34.5L111.6 35.8L111.6 35.2L112.2 34.6L112.8 34.2L113.4 34.2L114.0 34.1L114.6 34.2L115.2 33.8L115.8 34.7L116.5 35.6L116.5 35.0L117.2 33.5L118.0 34.0L118.8 35.5L118.8 35.7L119.4 34.4L120.0 34.2L120.6 33.5L121.2 33.9L121.8 35.4L121.8 35.3L122.5 34.0L123.2 34.0L123.9 33.9L124.6 35.2L124.6 35.6L125.3 35.0L125.9 34.4L126.6 34.6L127.2 34.7L127.9 36.0L127.9 39.2zM137.8 39.2L137.8 35.8L138.5 34.1L139.2 34.1L139.9 35.4L139.9 35.0L140.5 34.5L141.1 34.1L141.7 33.2L142.3 34.1L143.0 33.7L143.6 34.3L144.2 35.7L144.2 35.1L144.8 34.1L145.4 33.5L146.0 34.0L146.6 33.5L147.3 33.6L147.9 33.5L148.5 34.1L149.1 35.0L149.1 35.1L149.8 33.7L150.6 33.8L151.3 34.4L152.1 35.5L152.1 39.2zM155.8 39.2L155.8 35.5L156.4 34.5L157.0 34.1L157.7 34.4L158.3 35.6L158.3 39.2zM159.5 39.2L159.5 35.6L160.1 34.6L160.8 34.4L161.4 34.3L162.0 34.3L162.6 35.2L163.2 35.6L163.2 35.9L163.9 34.3L164.7 34.5L165.4 34.3L166.1 35.4L166.1 35.5L166.7 34.4L167.4 33.8L168.0 33.8L168.6 34.0L169.2 35.0L169.8 35.8L169.8 35.5L170.5 33.7L171.2 34.3L171.9 35.7L171.9 39.2zM47.1 39.2h1.1v-2.4h-1.1zM90.9 39.2h0.9v-1.5h-0.9zM93.3 39.2h1.0v-2.7h-1.0zM103.1 45.2L103.1 41.2L103.8 39.5L104.4 40.0L105.1 41.6L105.1 41.3L105.8 39.7L106.5 39.8L107.2 39.7L107.9 40.7L107.9 41.2L108.5 39.4L109.1 39.3L109.7 40.1L110.3 40.9L110.3 42.0L110.9 40.8L111.6 40.4L112.2 40.4L112.8 40.7L113.4 40.9L114.0 41.8L114.0 41.5L114.6 40.6L115.3 40.9L115.9 39.9L116.5 40.0L117.1 39.9L117.7 40.7L118.3 41.0L119.0 41.7L119.0 41.4L119.5 39.9L119.9 40.1L120.4 41.7L120.4 45.2zM124.8 45.2h0.7v-2.8h-0.7zM126.2 45.2h0.7v-3.6h-0.7zM128.6 45.2h1.0v-5.0h-1.0zM131.4 45.2h1.0v-4.5h-1.0zM132.9 45.2h0.7v-5.1h-0.7zM137.2 45.2h0.8v-2.9h-0.8zM138.6 45.2h1.1v-4.1h-1.1zM140.0 45.2h0.9v-2.4h-0.9zM153.3 45.2L153.3 40.7L154.0 39.8L154.7 39.8L155.4 40.1L156.1 41.4L156.1 41.8L156.7 40.8L157.4 40.1L158.0 39.8L158.6 40.4L159.3 41.7L159.3 41.4L159.8 40.1L160.3 40.4L160.8 41.5L160.8 45.2zM162.6 45.2h1.1v-3.6h-1.1zM164.2 45.2h1.0v-2.8h-1.0zM165.5 45.2h0.8v-5.2h-0.8zM167.0 45.2h1.0v-2.0h-1.0zM168.7 45.2h1.0v-3.9h-1.0zM69.4 45.2h0.7v-2.2h-0.7zM93.1 45.2h1.4v-2.1h-1.4zM103.1 51.1L103.1 47.4L103.7 46.9L104.4 45.8L105.0 45.9L105.7 46.4L106.3 47.0L107.0 47.7L107.0 47.5L107.6 46.7L108.2 45.7L108.8 45.4L109.4 45.7L110.0 46.0L110.6 46.1L111.2 47.5L111.2 47.0L111.8 46.1L112.4 45.4L113.1 45.8L113.7 46.5L114.3 47.5L114.3 47.3L114.9 46.8L115.6 45.8L116.3 45.4L117.0 45.6L117.6 45.9L118.3 45.7L119.0 45.9L119.6 47.4L119.6 47.4L120.1 45.8L120.6 46.3L121.1 47.2L121.1 51.1zM123.5 51.1h1.0v-2.2h-1.0zM128.6 51.1h0.7v-3.5h-0.7zM130.1 51.1h0.7v-2.2h-0.7zM134.7 51.1L134.7 47.9L135.3 46.5L136.0 45.7L136.6 46.0L137.2 47.4L137.2 47.2L137.6 45.8L138.0 45.0L138.4 46.8L138.4 51.1zM143.4 51.1h0.6v-2.7h-0.6zM144.4 51.1h0.8v-1.6h-0.8zM146.4 51.1h1.1v-2.6h-1.1zM152.1 51.1h1.0v-1.7h-1.0zM156.9 51.1h0.6v-1.8h-0.6zM160.8 51.1h0.8v-5.2h-0.8zM163.1 51.1h0.7v-4.5h-0.7zM165.6 51.1h0.7v-5.2h-0.7zM167.1 51.1h0.8v-3.3h-0.8zM86.5 51.1h1.1v-2.8h-1.1zM98.3 51.1h1.1v-1.8h-1.1zM103.1 57.0L103.1 53.3L103.7 52.2L104.4 51.1L105.0 51.7L105.7 52.3L106.3 53.4L106.3 52.9L107.0 52.0L107.6 51.4L108.3 52.0L109.0 52.3L109.6 52.7L110.3 53.3L110.3 53.4L110.9 52.4L111.5 51.8L112.2 51.5L112.8 51.4L113.5 51.5L114.1 52.2L114.7 53.5L114.9 57.0zM118.0 57.0L118.0 53.3L118.6 52.0L119.2 51.7L119.8 53.5L119.8 57.0zM124.2 57.0L124.2 53.6L124.9 51.8L125.6 51.7L126.3 52.3L127.0 53.4L127.0 53.4L127.3 51.4L127.6 51.6L127.9 52.8L127.9 57.0zM139.7 57.0h0.7v-4.0h-0.7zM141.0 57.0h1.1v-2.5h-1.1zM147.7 57.0L147.7 52.8L148.3 50.9L149.0 51.5L149.6 52.6L149.6 57.0zM157.0 57.0L157.0 53.1L157.7 51.7L158.3 52.2L158.9 52.0L159.5 53.2L159.5 57.0zM162.0 57.0h0.7v-2.4h-0.7zM162.9 57.0h0.7v-4.1h-0.7zM163.9 57.0h0.6v-4.2h-0.6zM164.8 57.0h0.8v-4.6h-0.8zM166.0 57.0h0.6v-3.2h-0.6zM167.1 57.0h0.9v-2.4h-0.9zM53.6 57.0h1.2v-1.8h-1.2zM103.1 62.9L103.1 59.0L103.7 57.6L104.3 57.3L104.9 57.3L105.5 57.3L106.1 58.4L106.1 59.1L106.8 58.5L107.5 58.3L108.1 57.4L108.8 58.3L109.4 59.1L109.4 58.9L110.1 58.0L110.8 57.8L111.5 57.2L112.2 57.5L112.8 58.5L112.8 59.1L113.6 57.5L114.4 57.9L115.1 59.2L115.1 59.2L115.8 57.7L116.5 56.8L117.2 56.7L117.9 58.0L118.6 59.1L118.6 62.9zM129.7 62.9L129.7 58.8L130.4 57.7L131.0 56.8L131.6 58.9L131.6 62.9zM137.2 62.9h1.1v-4.0h-1.1zM146.5 62.9h1.0v-2.8h-1.0zM148.2 62.9h1.0v-2.2h-1.0zM152.7 62.9L152.7 59.4L153.1 58.0L153.5 57.5L153.9 58.9L153.9 62.9zM162.0 62.9h0.6v-3.8h-0.6zM162.7 62.9h1.0v-3.3h-1.0zM33.3 62.9h1.3v-1.8h-1.3zM43.1 62.9h1.2v-2.3h-1.2zM96.8 62.9h1.2v-2.4h-1.2zM103.1 68.8L103.1 65.4L103.8 63.8L104.5 63.5L105.2 63.8L105.9 63.7L106.6 64.8L106.6 65.2L107.2 64.6L107.8 64.2L108.4 63.8L109.0 64.2L109.6 64.3L110.2 65.2L110.2 65.2L110.9 63.2L111.7 63.1L112.4 64.9L112.4 65.1L113.1 63.1L113.8 63.9L114.6 64.7L114.6 64.6L115.2 64.4L115.8 63.2L116.4 63.4L117.0 62.7L117.6 62.8L118.2 63.7L118.8 63.3L119.4 63.7L120.1 65.2L120.1 65.1L120.7 63.3L121.3 63.5L122.0 62.9L122.6 64.1L123.3 64.9L123.5 68.8zM135.9 68.8L135.9 65.4L136.4 63.8L136.8 64.0L137.2 65.5L137.2 68.8zM144.6 68.8L144.6 64.9L145.2 63.7L145.9 63.5L146.5 65.4L146.5 68.8zM153.3 68.8L153.3 65.2L153.9 63.7L154.6 64.0L155.2 65.0L155.2 68.8zM158.9 68.8L158.9 64.7L159.5 64.1L160.1 62.8L160.8 63.5L161.4 65.0L161.4 68.8zM165.1 68.8L165.1 64.8L165.7 63.7L166.3 63.9L167.0 65.0L167.0 68.8zM31.8 68.8h0.8v-2.7h-0.8zM32.7 68.8h1.0v-2.4h-1.0zM90.2 68.8h1.3v-2.4h-1.3zM103.1 74.7L103.1 71.5L103.7 70.5L104.3 69.7L104.9 69.9L105.5 70.2L106.2 70.9L106.2 71.0L106.8 70.3L107.4 70.1L108.0 70.0L108.6 71.4L108.6 71.0L109.3 69.9L109.9 69.9L110.6 69.5L111.2 70.0L111.9 71.3L111.9 71.3L112.5 70.7L113.2 69.7L113.9 69.2L114.5 69.3L115.2 69.7L115.8 70.1L116.5 70.7L117.1 71.0L117.1 70.9L117.8 70.1L118.5 69.1L119.1 69.2L119.8 69.8L120.5 69.7L121.1 71.3L121.1 71.2L121.8 70.4L122.4 69.3L123.0 69.9L123.7 69.5L124.3 69.6L125.0 71.2L125.0 70.8L125.5 69.2L126.1 69.0L126.6 71.1L126.6 74.7zM145.9 74.7L145.9 71.4L146.5 69.6L147.1 69.3L147.7 69.3L148.3 70.4L149.0 70.8L149.0 70.8L149.6 70.1L150.3 69.9L150.9 69.8L151.6 69.7L152.2 70.1L152.9 70.2L153.6 70.8L153.6 70.5L154.2 70.0L154.8 69.2L155.5 69.1L156.1 68.7L156.7 69.3L157.4 70.0L158.0 70.6L158.0 70.8L158.6 70.7L159.3 70.1L160.0 69.9L160.6 69.3L161.3 69.2L161.9 69.6L162.6 70.5L163.2 70.8L163.2 74.7zM34.4 74.7h0.8v-3.0h-0.8zM103.1 80.6L103.1 76.4L103.7 75.8L104.3 75.0L105.0 74.9L105.6 74.7L106.2 75.4L106.9 75.6L107.5 76.7L107.5 76.9L108.1 76.3L108.7 75.1L109.3 75.9L110.0 76.4L110.6 77.3L110.6 77.2L111.2 76.6L111.9 76.1L112.5 75.2L113.2 75.2L113.8 75.2L114.5 75.5L115.2 76.5L115.8 76.9L115.8 76.4L116.5 75.1L117.1 75.5L117.8 74.6L118.4 75.0L119.1 76.3L119.1 77.3L119.9 76.1L120.7 75.3L121.5 76.8L121.5 76.5L122.1 75.9L122.7 75.6L123.3 75.4L123.9 74.7L124.5 75.5L125.1 75.9L125.7 76.7L125.7 77.1L126.0 75.4L126.3 75.7L126.6 77.1L126.6 80.6zM135.3 80.6h1.6v-3.7h-1.6zM173.2 80.6h1.5v-4.0h-1.5zM45.3 80.6h0.9v-2.0h-0.9zM57.4 80.6h1.2v-2.6h-1.2zM87.5 80.6h0.8v-1.9h-0.8zM88.5 80.6h1.0v-2.4h-1.0zM103.1 86.5L103.1 82.7L103.7 81.1L104.4 82.0L105.1 82.9L105.1 82.8L105.7 81.5L106.3 81.2L106.9 80.5L107.5 81.3L108.2 81.1L108.8 82.7L108.8 82.6L109.5 81.7L110.2 80.8L110.9 81.7L111.5 82.4L111.5 82.5L112.2 81.8L112.8 81.3L113.4 81.0L114.1 80.5L114.7 81.6L115.3 81.3L116.0 82.9L116.0 82.6L116.7 81.7L117.3 81.5L118.0 81.3L118.7 83.1L118.7 82.5L119.1 81.0L119.4 81.1L119.8 82.8L119.8 86.5zM120.4 86.5L120.4 82.7L120.8 81.4L121.3 81.3L121.7 83.2L121.7 86.5zM154.6 86.5L154.6 82.5L155.3 81.8L156.0 81.0L156.7 80.5L157.4 81.7L158.1 82.8L158.3 86.5zM32.7 86.5h0.8v-2.4h-0.8zM33.7 86.5h0.7v-1.5h-0.7zM61.8 86.5h1.0v-1.9h-1.0zM87.5 86.5h1.0v-2.9h-1.0zM90.8 86.5h1.0v-3.1h-1.0zM103.1 92.4L103.1 88.9L103.7 87.7L104.4 87.7L105.0 87.4L105.7 87.3L106.3 87.8L107.0 87.9L107.6 88.5L107.6 88.5L108.3 87.8L108.9 87.7L109.5 87.0L110.2 87.2L110.8 87.0L111.4 87.4L112.1 88.7L112.1 88.6L112.7 87.7L113.4 86.7L114.1 86.4L114.7 86.7L115.4 87.3L116.1 88.2L116.1 88.6L116.5 87.3L116.9 86.9L117.3 88.9L117.3 92.4zM160.8 92.4L160.8 88.3L161.5 87.2L162.1 87.1L162.8 86.9L163.5 87.4L164.2 88.4L164.2 88.2L164.7 87.4L165.2 86.9L165.7 88.3L165.7 92.4zM64.5 92.4h0.8v-3.1h-0.8zM65.4 92.4h0.9v-2.7h-0.9zM67.0 92.4h0.9v-2.3h-0.9zM89.7 92.4h1.0v-2.1h-1.0zM91.3 92.4h0.9v-2.6h-0.9zM92.4 92.4h0.9v-2.3h-0.9zM93.5 92.4h1.1v-1.1h-1.1zM94.9 92.4h0.8v-1.7h-0.8zM96.1 92.4h0.9v-1.4h-0.9zM103.1 98.3L103.1 94.5L103.8 93.4L104.4 93.1L105.1 92.8L105.8 94.1L105.8 94.5L106.4 93.9L107.0 92.8L107.6 93.2L108.2 92.9L108.8 92.9L109.4 93.4L110.1 94.6L110.1 94.8L110.7 93.1L111.3 93.1L111.9 92.6L112.5 93.6L113.1 94.6L113.1 94.8L113.8 93.8L114.5 92.8L115.2 93.6L116.0 94.8L116.1 98.3zM160.8 98.3h0.8v-3.3h-0.8zM162.1 98.3h0.9v-5.1h-0.9zM165.0 98.3h1.0v-4.7h-1.0zM166.6 98.3h0.6v-5.2h-0.6zM53.0 98.3h1.1v-1.5h-1.1zM92.4 98.3h0.7v-2.7h-0.7zM96.0 98.3h1.0v-3.0h-1.0zM97.6 98.3h1.0v-2.6h-1.0zM99.1 98.3h1.0v-2.9h-1.0zM100.6 98.3h0.7v-1.4h-0.7zM103.1 104.3h0.6v-2.4h-0.6zM104.1 104.3h0.8v-4.8h-0.8zM105.1 104.3h1.0v-3.8h-1.0zM106.7 104.3h1.0v-3.3h-1.0zM108.5 104.3h0.6v-4.1h-0.6zM109.2 104.3h0.9v-5.1h-0.9zM110.5 104.3h1.1v-3.5h-1.1zM118.6 104.3L118.6 100.3L119.0 99.3L119.4 99.1L119.8 100.5L119.8 104.3zM120.4 104.3h0.9v-2.9h-0.9zM122.0 104.3h0.8v-2.8h-0.8zM123.2 104.3h1.1v-4.6h-1.1zM124.7 104.3h0.8v-3.9h-0.8zM126.0 104.3h1.0v-4.4h-1.0zM127.7 104.3h0.9v-2.9h-0.9zM131.5 104.3h0.9v-4.0h-0.9zM133.0 104.3h0.9v-2.6h-0.9zM135.5 104.3h0.7v-4.5h-0.7zM136.9 104.3h0.9v-4.7h-0.9zM142.1 104.3h0.9v-2.9h-0.9zM143.4 104.3h0.8v-4.1h-0.8zM144.9 104.3h0.6v-2.0h-0.6zM145.7 104.3h1.0v-5.0h-1.0zM147.2 104.3h0.6v-3.9h-0.6zM148.5 104.3h1.1v-3.3h-1.1zM149.8 104.3h0.9v-2.4h-0.9zM150.8 104.3h0.6v-2.3h-0.6zM157.0 104.3h0.6v-2.3h-0.6zM157.8 104.3h1.0v-4.4h-1.0zM162.7 104.3h1.1v-5.2h-1.1zM164.4 104.3h0.6v-4.1h-0.6zM165.7 104.3h0.6v-4.4h-0.6zM166.5 104.3h1.0v-2.1h-1.0zM167.9 104.3h0.9v-4.2h-0.9zM169.0 104.3h1.0v-4.1h-1.0zM50.3 104.3h1.2v-1.9h-1.2zM85.3 104.3h1.0v-2.3h-1.0zM86.8 104.3h0.7v-2.7h-0.7zM97.3 104.3h1.5v-1.9h-1.5zM103.1 110.2h0.9v-4.7h-0.9zM104.5 110.2h0.8v-4.9h-0.8zM105.6 110.2h0.9v-5.0h-0.9zM107.2 110.2h0.7v-2.8h-0.7zM119.8 110.2h0.9v-4.9h-0.9zM122.6 110.2h0.9v-4.8h-0.9zM131.0 110.2h0.6v-3.9h-0.6zM134.4 110.2h0.7v-3.8h-0.7zM142.8 110.2h0.8v-4.7h-0.8zM144.2 110.2h0.7v-5.0h-0.7zM145.7 110.2h0.9v-3.9h-0.9zM146.8 110.2h0.7v-4.3h-0.7zM147.8 110.2h0.9v-3.6h-0.9zM155.8 110.2h0.6v-2.7h-0.6zM157.7 110.2h0.9v-3.1h-0.9zM169.4 110.2h1.1v-2.5h-1.1zM80.4 110.2h1.0v-1.6h-1.0zM96.2 110.2h0.6v-2.3h-0.6zM103.1 116.1h0.6v-3.2h-0.6zM103.9 116.1h1.1v-3.8h-1.1zM105.5 116.1h1.1v-3.2h-1.1zM112.4 116.1h0.7v-5.3h-0.7zM113.3 116.1h0.6v-3.1h-0.6zM117.4 116.1h1.1v-2.4h-1.1zM126.0 116.1h1.1v-2.9h-1.1zM127.6 116.1h1.0v-3.0h-1.0zM135.9 116.1h0.7v-2.4h-0.7zM136.9 116.1h0.7v-1.9h-0.7zM138.1 116.1h0.7v-5.1h-0.7zM140.9 116.1h0.7v-2.2h-0.7zM149.6 116.1h1.0v-2.9h-1.0zM152.5 116.1h0.7v-1.8h-0.7zM153.8 116.1h0.9v-4.1h-0.9zM154.9 116.1h0.8v-2.4h-0.8zM160.8 116.1h0.8v-3.6h-0.8zM161.8 116.1h1.1v-5.2h-1.1zM163.0 116.1h1.0v-2.6h-1.0zM164.5 116.1h0.7v-2.6h-0.7zM167.5 116.1h0.6v-5.0h-0.6zM168.3 116.1h1.0v-5.2h-1.0zM169.3 116.1h1.0v-2.3h-1.0zM33.3 116.1h1.0v-1.3h-1.0zM34.7 116.1h1.1v-2.0h-1.1zM63.9 116.1h1.0v-2.6h-1.0zM83.1 116.1h1.4v-1.6h-1.4zM95.7 116.1L95.7 112.5L96.1 111.2L96.4 111.4L96.8 112.7L96.8 116.1zM103.1 122.0h0.9v-4.0h-0.9zM104.5 122.0h0.7v-3.7h-0.7zM105.6 122.0h1.0v-4.0h-1.0zM114.2 122.0L114.2 118.6L114.6 116.6L115.1 117.1L115.5 118.6L115.5 122.0zM121.7 122.0L121.7 118.5L122.3 116.6L122.9 116.7L123.5 118.1L123.5 122.0zM130.4 122.0L130.4 117.8L130.8 116.2L131.2 116.8L131.6 117.9L131.6 122.0zM137.8 122.0L137.8 118.4L138.2 116.1L138.6 116.0L139.0 118.1L139.0 122.0zM168.2 122.0L168.2 118.2L168.6 117.2L169.0 116.2L169.4 118.4L169.4 122.0zM42.0 122.0h0.7v-1.6h-0.7zM43.4 122.0h0.6v-2.6h-0.6zM55.2 122.0h0.9v-2.3h-0.9zM57.9 122.0h1.3v-2.2h-1.3zM99.0 122.0h1.4v-1.5h-1.4zM103.1 127.9h1.0v-2.0h-1.0zM104.3 127.9h0.8v-2.8h-0.8zM105.3 127.9h0.8v-3.9h-0.8zM106.8 127.9h0.7v-4.4h-0.7zM113.6 127.9h1.5v-4.9h-1.5zM119.2 127.9h0.8v-4.8h-0.8zM121.9 127.9h0.8v-3.0h-0.8zM131.6 127.9h1.1v-5.0h-1.1zM133.4 127.9h1.0v-3.7h-1.0zM135.2 127.9h1.1v-3.3h-1.1zM145.9 127.9h0.8v-2.1h-0.8zM147.1 127.9h0.9v-2.3h-0.9zM151.9 127.9h0.6v-2.8h-0.6zM155.8 127.9h0.7v-5.1h-0.7zM157.1 127.9h0.7v-3.4h-0.7zM158.6 127.9h0.7v-4.1h-0.7zM160.8 127.9h0.7v-3.7h-0.7zM161.8 127.9h0.7v-2.9h-0.7zM45.9 127.9L45.9 124.6L46.6 123.0L47.2 122.4L47.9 122.9L48.6 124.2L48.6 127.9zM66.1 127.9h0.9v-2.6h-0.9zM67.5 127.9h0.9v-2.1h-0.9zM68.7 127.9h0.7v-2.2h-0.7zM89.7 127.9h0.9v-1.8h-0.9zM91.3 127.9h0.7v-2.1h-0.7zM104.3 133.8h1.1v-4.5h-1.1zM106.7 133.8h0.6v-3.4h-0.6zM107.9 133.8h0.7v-5.2h-0.7zM109.9 133.8L109.9 130.2L110.5 128.5L111.1 128.6L111.7 129.9L111.7 133.8zM119.8 133.8h1.0v-3.8h-1.0zM124.2 133.8h1.0v-3.8h-1.0zM134.7 133.8h0.9v-3.4h-0.9zM136.0 133.8h1.0v-3.2h-1.0zM137.5 133.8h0.8v-4.6h-0.8zM139.0 133.8h0.8v-2.5h-0.8zM140.1 133.8h0.7v-3.9h-0.7zM144.6 133.8h1.1v-4.1h-1.1zM146.4 133.8h1.1v-2.8h-1.1zM148.2 133.8h0.6v-3.2h-0.6zM153.3 133.8h1.1v-3.1h-1.1zM155.0 133.8h0.8v-3.3h-0.8zM157.7 133.8h0.6v-2.8h-0.6zM168.2 133.8h0.8v-3.4h-0.8zM171.3 133.8h0.7v-4.5h-0.7zM172.6 133.8h0.9v-4.2h-0.9zM33.3 133.8h1.0v-2.5h-1.0zM34.7 133.8h0.7v-1.9h-0.7zM39.9 133.8h0.7v-2.1h-0.7zM42.4 133.8h0.6v-2.3h-0.6zM43.3 133.8h0.9v-1.5h-0.9zM62.3 133.8h1.3v-2.4h-1.3zM70.0 133.8L70.0 130.0L70.3 128.8L70.7 128.4L71.1 130.0L71.1 133.8zM93.0 133.8h1.1v-2.0h-1.1zM95.1 133.8h0.7v-2.2h-0.7zM98.4 133.8h1.0v-1.5h-1.0zM105.5 139.7h0.6v-3.3h-0.6zM106.5 139.7h0.8v-1.8h-0.8zM109.4 139.7h0.9v-1.7h-0.9zM111.0 139.7h1.0v-4.2h-1.0zM122.3 139.7h1.1v-4.0h-1.1zM40.9 139.7L40.9 135.6L41.3 134.7L41.7 134.6L42.0 135.8L42.0 139.7zM50.3 139.7h1.1v-1.8h-1.1zM62.3 139.7h1.5v-2.1h-1.5zM94.6 139.7h1.5v-1.7h-1.5z" fill="#000"/>
<line x1="31.70" y1="15.00" x2="31.70" y2="140.91" stroke="#000" stroke-width="1.9"/>
<line x1="30.80" y1="140.01" x2="174.40" y2="140.01" stroke="#000" stroke-width="1.9"/>
<line x1="25.50" y1="15.90" x2="31.70" y2="15.90" stroke="#000" stroke-width="1.9"/>
<text x="24.00" y="20.45" font-size="8.8" font-weight="bold" text-anchor="end" fill="#000">0</text>
<line x1="25.50" y1="57.27" x2="31.70" y2="57.27" stroke="#000" stroke-width="1.9"/>
<text x="24.00" y="58.42" font-size="8.8" font-weight="bold" text-anchor="end" fill="#000">7</text>
<line x1="25.50" y1="98.64" x2="31.70" y2="98.64" stroke="#000" stroke-width="1.9"/>
<text x="24.00" y="102.19" font-size="8.8" font-weight="bold" text-anchor="end" fill="#000">14</text>
<line x1="25.50" y1="140.01" x2="31.70" y2="140.01" stroke="#000" stroke-width="1.9"/>
<text x="24.00" y="141.66" font-size="8.8" font-weight="bold" text-anchor="end" fill="#000">21</text>
<line x1="31.70" y1="140.01" x2="31.70" y2="145.61" stroke="#000" stroke-width="1.9"/>
<text x="31.70" y="156.85" font-size="10.2" font-weight="bold" text-anchor="middle" fill="#000">0</text>
<line x1="102.38" y1="140.01" x2="102.38" y2="145.61" stroke="#000" stroke-width="1.9"/>
<text x="102.38" y="156.85" font-size="10.2" font-weight="bold" text-anchor="middle" fill="#000">12</text>
<line x1="173.06" y1="140.01" x2="173.06" y2="145.61" stroke="#000" stroke-width="1.9"/>
<text x="173.06" y="156.85" font-size="10.2" font-weight="bold" text-anchor="middle" fill="#000">24</text>
<text x="102.00" y="12.49" font-size="10.3" font-weight="bold" text-anchor="middle" fill="#000">Control</text>
<rect x="275.82" y="17.50" width="70.98" height="124.32" fill="#c0c0c0" stroke="none" stroke-width="0"/>
<line x1="205.50" y1="17.50" x2="275.82" y2="17.50" stroke="#cdcdcd" stroke-width="0.8"/>
<line x1="275.82" y1="17.50" x2="346.80" y2="17.50" stroke="#9a9a9a" stroke-width="0.8"/>
<line x1="205.50" y1="23.42" x2="275.82" y2="23.42" stroke="#cdcdcd" stroke-width="0.8"/>
<line x1="275.82" y1="23.42" x2="346.80" y2="23.42" stroke="#9a9a9a" stroke-width="0.8"/>
<line x1="205.50" y1="29.34" x2="275.82" y2="29.34" stroke="#cdcdcd" stroke-width="0.8"/>
<line x1="275.82" y1="29.34" x2="346.80" y2="29.34" stroke="#9a9a9a" stroke-width="0.8"/>
<line x1="205.50" y1="35.26" x2="275.82" y2="35.26" stroke="#cdcdcd" stroke-width="0.8"/>
<line x1="275.82" y1="35.26" x2="346.80" y2="35.26" stroke="#9a9a9a" stroke-width="0.8"/>
<line x1="205.50" y1="41.18" x2="275.82" y2="41.18" stroke="#cdcdcd" stroke-width="0.8"/>
<line x1="275.82" y1="41.18" x2="346.80" y2="41.18" stroke="#9a9a9a" stroke-width="0.8"/>
<line x1="205.50" y1="47.10" x2="275.82" y2="47.10" stroke="#cdcdcd" stroke-width="0.8"/>
<line x1="275.82" y1="47.10" x2="346.80" y2="47.10" stroke="#9a9a9a" stroke-width="0.8"/>
<line x1="205.50" y1="53.02" x2="275.82" y2="53.02" stroke="#cdcdcd" stroke-width="0.8"/>
<line x1="275.82" y1="53.02" x2="346.80" y2="53.02" stroke="#9a9a9a" stroke-width="0.8"/>
<line x1="205.50" y1="58.94" x2="275.82" y2="58.94" stroke="#cdcdcd" stroke-width="0.8"/>
<line x1="275.82" y1="58.94" x2="346.80" y2="58.94" stroke="#9a9a9a" stroke-width="0.8"/>
<line x1="205.50" y1="64.86" x2="275.82" y2="64.86" stroke="#cdcdcd" stroke-width="0.8"/>
<line x1="275.82" y1="64.86" x2="346.80" y2="64.86" stroke="#9a9a9a" stroke-width="0.8"/>
<line x1="205.50" y1="70.78" x2="275.82" y2="70.78" stroke="#cdcdcd" stroke-width="0.8"/>
<line x1="275.82" y1="70.78" x2="346.80" y2="70.78" stroke="#9a9a9a" stroke-width="0.8"/>
<line x1="205.50" y1="76.70" x2="275.82" y2="76.70" stroke="#cdcdcd" stroke-width="0.8"/>
<line x1="275.82" y1="76.70" x2="346.80" y2="76.70" stroke="#9a9a9a" stroke-width="0.8"/>
<line x1="205.50" y1="82.62" x2="275.82" y2="82.62" stroke="#cdcdcd" stroke-width="0.8"/>
<line x1="275.82" y1="82.62" x2="346.80" y2="82.62" stroke="#9a9a9a" stroke-width="0.8"/>
<line x1="205.50" y1="88.54" x2="275.82" y2="88.54" stroke="#cdcdcd" stroke-width="0.8"/>
<line x1="275.82" y1="88.54" x2="346.80" y2="88.54" stroke="#9a9a9a" stroke-width="0.8"/>
<line x1="205.50" y1="94.46" x2="275.82" y2="94.46" stroke="#cdcdcd" stroke-width="0.8"/>
<line x1="275.82" y1="94.46" x2="346.80" y2="94.46" stroke="#9a9a9a" stroke-width="0.8"/>
<line x1="205.50" y1="100.38" x2="275.82" y2="100.38" stroke="#cdcdcd" stroke-width="0.8"/>
<line x1="275.82" y1="100.38" x2="346.80" y2="100.38" stroke="#9a9a9a" stroke-width="0.8"/>
<line x1="205.50" y1="106.30" x2="275.82" y2="106.30" stroke="#cdcdcd" stroke-width="0.8"/>
<line x1="275.82" y1="106.30" x2="346.80" y2="106.30" stroke="#9a9a9a" stroke-width="0.8"/>
<line x1="205.50" y1="112.22" x2="275.82" y2="112.22" stroke="#cdcdcd" stroke-width="0.8"/>
<line x1="275.82" y1="112.22" x2="346.80" y2="112.22" stroke="#9a9a9a" stroke-width="0.8"/>
<line x1="205.50" y1="118.14" x2="275.82" y2="118.14" stroke="#cdcdcd" stroke-width="0.8"/>
<line x1="275.82" y1="118.14" x2="346.80" y2="118.14" stroke="#9a9a9a" stroke-width="0.8"/>
<line x1="205.50" y1="124.06" x2="275.82" y2="124.06" stroke="#cdcdcd" stroke-width="0.8"/>
<line x1="275.82" y1="124.06" x2="346.80" y2="124.06" stroke="#9a9a9a" stroke-width="0.8"/>
<line x1="205.50" y1="129.98" x2="275.82" y2="129.98" stroke="#cdcdcd" stroke-width="0.8"/>
<line x1="275.82" y1="129.98" x2="346.80" y2="129.98" stroke="#9a9a9a" stroke-width="0.8"/>
<line x1="205.50" y1="135.90" x2="275.82" y2="135.90" stroke="#cdcdcd" stroke-width="0.8"/>
<line x1="275.82" y1="135.90" x2="346.80" y2="135.90" stroke="#9a9a9a" stroke-width="0.8"/>
<line x1="205.50" y1="141.82" x2="275.82" y2="141.82" stroke="#cdcdcd" stroke-width="0.8"/>
<line x1="275.82" y1="141.82" x2="346.80" y2="141.82" stroke="#9a9a9a" stroke-width="0.8"/>
<path d="M208.5 23.1h0.7v-1.5h-0.7zM209.9 23.1h0.7v-1.4h-0.7zM256.6 23.1h1.2v-2.0h-1.2zM291.7 23.1h0.9v-2.7h-0.9zM298.2 23.1h1.5v-4.8h-1.5zM299.9 23.1h1.0v-4.6h-1.0zM301.1 23.1h0.9v-5.3h-0.9zM302.3 23.1h1.0v-5.4h-1.0zM303.4 23.1h1.1v-5.6h-1.1zM309.2 23.1h1.2v-5.6h-1.2zM310.8 23.1h1.0v-4.8h-1.0zM312.2 23.1h0.3v-5.8h-0.3zM342.0 23.1h1.6v-5.0h-1.6zM343.8 23.1h1.2v-4.4h-1.2zM345.4 23.1h1.1v-5.7h-1.1zM284.0 29.0h1.2v-4.6h-1.2zM285.5 29.0h1.0v-5.7h-1.0zM286.7 29.0h1.3v-5.1h-1.3zM288.1 29.0h1.4v-4.8h-1.4zM289.9 29.0h1.3v-4.7h-1.3zM291.4 29.0h1.0v-4.5h-1.0zM334.4 29.0h1.1v-5.3h-1.1zM335.6 29.0h1.3v-4.8h-1.3zM337.2 29.0h1.1v-4.3h-1.1zM338.5 29.0h0.2v-4.4h-0.2zM230.4 35.0h1.1v-2.0h-1.1zM298.2 35.0h1.5v-5.5h-1.5zM300.2 35.0h1.5v-4.4h-1.5zM301.9 35.0h0.9v-5.4h-0.9zM303.1 35.0h1.1v-4.9h-1.1zM304.6 35.0h1.4v-4.6h-1.4zM306.4 35.0h1.1v-5.3h-1.1zM307.7 35.0h1.0v-5.8h-1.0zM309.1 35.0h1.4v-4.2h-1.4zM310.6 35.0h0.8v-4.5h-0.8zM339.9 35.0h0.8v-2.9h-0.8zM342.4 35.0h1.0v-3.4h-1.0zM223.8 40.9h1.1v-1.3h-1.1zM265.4 40.9h1.0v-1.7h-1.0zM266.6 40.9h1.0v-1.2h-1.0zM278.5 40.9h1.0v-5.5h-1.0zM282.9 40.9h1.1v-2.2h-1.1zM290.6 40.9h1.1v-2.6h-1.1zM295.0 40.9h1.1v-5.1h-1.1zM298.1 40.9h0.8v-4.3h-0.8zM299.3 40.9h0.9v-2.0h-0.9zM205.2 46.8h0.7v-3.1h-0.7zM206.5 46.8h0.9v-1.2h-0.9zM212.9 46.8h0.8v-1.5h-0.8zM251.2 46.8h1.1v-2.2h-1.1zM285.1 46.8h0.8v-2.6h-0.8zM286.2 46.8h1.0v-3.2h-1.0zM297.2 46.8h1.5v-5.1h-1.5zM299.0 46.8h1.0v-5.3h-1.0zM300.3 46.8h1.2v-5.5h-1.2zM301.9 46.8h1.0v-4.7h-1.0zM303.1 46.8h1.0v-4.3h-1.0zM304.4 46.8h1.0v-5.4h-1.0zM305.7 46.8h1.0v-4.7h-1.0zM306.9 46.8h1.2v-4.4h-1.2zM308.2 46.8h0.9v-5.9h-0.9zM309.5 46.8h0.8v-5.4h-0.8zM319.0 46.8h0.9v-3.0h-0.9zM324.5 46.8h1.1v-2.3h-1.1zM325.9 46.8h0.7v-3.9h-0.7zM208.5 52.7h1.1v-1.6h-1.1zM243.5 52.7h0.9v-3.0h-0.9zM246.3 52.7h0.8v-2.8h-0.8zM247.3 52.7h0.8v-1.9h-0.8zM248.8 52.7h0.7v-2.3h-0.7zM311.4 52.7h1.5v-5.4h-1.5zM313.3 52.7h1.6v-5.0h-1.6zM315.1 52.7h1.0v-4.7h-1.0zM316.4 52.7h1.0v-5.4h-1.0zM317.5 52.7h1.2v-5.9h-1.2zM321.2 52.7h0.6v-2.2h-0.6zM209.6 58.6h0.9v-2.0h-0.9zM210.8 58.6h0.8v-2.8h-0.8zM212.4 58.6h0.7v-2.0h-0.7zM213.6 58.6h0.8v-1.3h-0.8zM226.0 58.6h0.8v-3.0h-0.8zM229.1 58.6h1.0v-2.5h-1.0zM276.4 58.6h1.1v-5.2h-1.1zM277.9 58.6h1.2v-5.3h-1.2zM279.3 58.6h0.3v-5.7h-0.3zM286.2 58.6h0.7v-2.9h-0.7zM287.1 58.6h0.9v-3.3h-0.9zM295.0 58.6h0.7v-4.9h-0.7zM297.0 58.6h0.6v-2.7h-0.6zM305.9 58.6h0.9v-3.3h-0.9zM308.0 58.6h0.8v-2.9h-0.8zM316.9 58.6h1.3v-4.3h-1.3zM326.7 58.6h1.0v-4.5h-1.0zM217.2 64.6h0.7v-2.3h-0.7zM219.4 64.6h0.7v-1.2h-0.7zM252.3 64.6h1.0v-1.8h-1.0zM298.2 64.6h1.4v-4.9h-1.4zM300.1 64.6h1.3v-5.7h-1.3zM301.7 64.6h1.5v-5.7h-1.5zM303.4 64.6h1.4v-4.8h-1.4zM305.2 64.6h0.7v-5.6h-0.7zM312.5 64.6h0.8v-5.1h-0.8zM313.9 64.6h0.6v-2.2h-0.6zM315.0 64.6h1.0v-5.1h-1.0zM316.6 64.6h0.7v-3.4h-0.7zM319.0 64.6h0.9v-1.9h-0.9zM320.1 64.6h1.0v-3.8h-1.0zM331.1 64.6h1.4v-3.4h-1.4zM209.6 70.5h0.7v-2.2h-0.7zM251.2 70.5h1.5v-2.8h-1.5zM313.6 70.5h0.9v-4.8h-0.9zM314.6 70.5h1.3v-5.7h-1.3zM316.3 70.5h0.9v-4.5h-0.9zM317.6 70.5h1.4v-4.8h-1.4zM325.6 70.5h0.7v-2.8h-0.7zM327.0 70.5h0.9v-2.6h-0.9zM206.3 76.4h0.7v-2.1h-0.7zM207.5 76.4h0.8v-1.1h-0.8zM208.8 76.4h0.8v-2.1h-0.8zM227.1 76.4h0.9v-1.6h-0.9zM268.7 76.4h0.9v-1.4h-0.9zM298.2 76.4h1.4v-5.3h-1.4zM300.0 76.4h1.2v-4.6h-1.2zM301.5 76.4h1.5v-5.8h-1.5zM303.4 76.4h1.1v-5.5h-1.1zM309.2 76.4h1.3v-4.1h-1.3zM324.5 76.4h0.8v-2.8h-0.8zM325.4 76.4h0.8v-4.5h-0.8zM326.6 76.4h0.8v-2.3h-0.8zM327.8 76.4h0.7v-4.2h-0.7zM293.9 82.3h1.0v-4.3h-1.0zM295.1 82.3h1.1v-5.4h-1.1zM296.5 82.3h1.6v-4.7h-1.6zM298.5 82.3h0.9v-4.3h-0.9zM319.0 82.3h0.9v-2.6h-0.9zM322.7 82.3h0.7v-2.1h-0.7zM323.7 82.3h1.0v-2.8h-1.0zM206.3 88.2h0.9v-2.4h-0.9zM207.9 88.2h0.8v-1.3h-0.8zM242.4 88.2h1.0v-1.9h-1.0zM265.4 88.2h1.0v-1.7h-1.0zM267.0 88.2h0.8v-1.7h-0.8zM267.9 88.2h0.9v-1.8h-0.9zM281.8 88.2h1.1v-5.3h-1.1zM284.3 88.2h0.6v-2.4h-0.6zM289.5 88.2h0.6v-3.3h-0.6zM290.6 88.2h0.9v-4.1h-0.9zM301.5 88.2h0.8v-3.7h-0.8zM303.1 88.2h0.7v-3.5h-0.7zM304.3 88.2h1.0v-5.3h-1.0zM320.1 88.2h1.0v-1.7h-1.0zM323.5 88.2h0.7v-3.8h-0.7zM324.9 88.2h0.7v-3.9h-0.7zM329.6 88.2h1.0v-3.5h-1.0zM331.0 88.2h1.0v-3.3h-1.0zM343.1 88.2h1.1v-4.0h-1.1zM344.5 88.2h0.7v-3.4h-0.7zM233.7 94.2h1.1v-2.9h-1.1zM264.3 94.2h0.7v-1.4h-0.7zM265.7 94.2h1.0v-2.7h-1.0zM267.4 94.2h0.7v-2.1h-0.7zM276.4 94.2h0.7v-3.9h-0.7zM278.6 94.2h1.0v-4.6h-1.0zM281.8 94.2h0.7v-2.3h-0.7zM295.0 94.2h0.9v-5.8h-0.9zM296.0 94.2h1.4v-4.3h-1.4zM297.6 94.2h1.4v-4.3h-1.4zM312.5 94.2h1.1v-4.2h-1.1zM314.3 94.2h0.6v-3.9h-0.6zM316.4 94.2h0.8v-1.7h-0.8zM320.1 94.2h1.1v-4.7h-1.1zM327.8 94.2h1.0v-3.7h-1.0zM339.9 94.2h0.7v-2.1h-0.7zM342.2 94.2h0.7v-3.1h-0.7zM343.6 94.2h0.8v-4.4h-0.8zM222.7 100.1h1.4v-1.8h-1.4zM246.8 100.1h0.7v-1.1h-0.7zM247.6 100.1h0.9v-1.9h-0.9zM270.9 100.1h0.9v-2.2h-0.9zM295.0 100.1h1.1v-4.9h-1.1zM296.5 100.1h1.2v-4.8h-1.2zM297.9 100.1h0.3v-5.9h-0.3zM316.9 100.1h0.9v-2.3h-0.9zM318.3 100.1h0.8v-2.2h-0.8zM338.8 100.1h1.5v-4.5h-1.5zM279.6 106.0h1.1v-3.6h-1.1zM282.3 106.0h1.1v-3.8h-1.1zM299.3 106.0h1.3v-4.0h-1.3zM311.4 106.0h1.1v-3.4h-1.1zM331.1 106.0h0.9v-4.0h-0.9zM335.0 106.0h1.0v-2.7h-1.0zM336.7 106.0h1.0v-2.0h-1.0zM301.5 111.9h0.7v-4.0h-0.7zM302.6 111.9h0.8v-2.8h-0.8zM292.8 117.8h1.4v-3.4h-1.4zM298.2 117.8h1.3v-3.0h-1.3zM305.9 117.8h1.2v-3.3h-1.2zM315.8 117.8h0.8v-2.2h-0.8zM317.1 117.8h0.6v-3.7h-0.6zM318.0 117.8h0.8v-4.0h-0.8zM343.1 117.8h1.2v-2.5h-1.2zM206.3 123.8h0.8v-2.2h-0.8zM208.9 123.8h0.8v-2.0h-0.8zM217.2 123.8h1.0v-2.9h-1.0zM293.9 123.8h1.4v-3.4h-1.4zM308.1 123.8h0.9v-1.8h-0.9zM319.0 123.8h1.5v-5.5h-1.5zM320.7 123.8h1.3v-5.0h-1.3zM322.3 123.8h1.5v-4.9h-1.5zM324.0 123.8h0.5v-4.9h-0.5zM327.8 123.8h0.9v-3.6h-0.9zM329.3 123.8h0.8v-3.6h-0.8zM338.8 123.8h0.7v-4.7h-0.7zM340.8 123.8h0.6v-4.3h-0.6zM341.8 123.8h0.6v-3.3h-0.6zM344.8 123.8h0.7v-3.7h-0.7zM212.9 129.7h1.6v-1.8h-1.6zM220.5 129.7h1.1v-1.8h-1.1zM242.4 129.7h0.7v-2.3h-0.7zM278.5 129.7h0.8v-2.9h-0.8zM281.3 129.7h0.7v-3.7h-0.7zM282.4 129.7h0.8v-3.9h-0.8zM291.7 129.7h1.0v-5.0h-1.0zM293.2 129.7h0.6v-3.7h-0.6zM294.2 129.7h0.9v-2.8h-0.9zM297.1 129.7h0.9v-5.1h-0.9zM319.0 129.7h1.0v-2.9h-1.0zM321.4 129.7h0.9v-4.3h-0.9zM324.4 129.7h0.9v-2.2h-0.9zM330.0 129.7h1.0v-4.8h-1.0zM333.3 129.7h1.0v-2.7h-1.0zM342.0 129.7h0.6v-5.2h-0.6zM343.1 129.7h0.9v-5.0h-0.9zM344.6 129.7h0.7v-4.3h-0.7zM345.4 129.7h1.0v-2.7h-1.0zM230.4 135.6h1.1v-2.2h-1.1zM274.2 135.6h0.7v-1.5h-0.7zM277.0 135.6h0.8v-1.6h-0.8zM288.4 135.6h1.4v-2.7h-1.4zM301.5 135.6h1.5v-2.7h-1.5zM308.1 135.6h1.1v-4.4h-1.1zM309.6 135.6h0.7v-3.8h-0.7zM332.2 135.6h1.6v-2.6h-1.6zM206.3 141.5h0.8v-2.0h-0.8zM207.6 141.5h0.6v-1.4h-0.6zM209.0 141.5h1.0v-2.6h-1.0zM220.5 141.5h0.9v-1.6h-0.9zM222.2 141.5h0.9v-1.5h-0.9zM236.9 141.5h1.5v-1.8h-1.5zM256.6 141.5h0.6v-1.1h-0.6zM260.0 141.5h0.9v-2.0h-0.9zM277.4 141.5h0.8v-2.1h-0.8zM278.5 141.5h1.1v-4.1h-1.1zM280.2 141.5h0.8v-1.9h-0.8zM305.9 141.5h1.0v-3.6h-1.0zM316.9 141.5h0.7v-3.1h-0.7zM317.9 141.5h0.7v-2.2h-0.7zM320.0 141.5h1.0v-4.4h-1.0zM323.9 141.5h0.7v-2.8h-0.7zM338.8 141.5h0.9v-3.3h-0.9zM340.3 141.5h1.0v-2.3h-1.0zM341.8 141.5h1.1v-3.4h-1.1zM343.4 141.5h1.0v-4.0h-1.0zM344.9 141.5h1.1v-4.4h-1.1z" fill="#000"/>
<line x1="205.50" y1="16.60" x2="205.50" y2="142.72" stroke="#000" stroke-width="1.9"/>
<line x1="204.60" y1="141.82" x2="347.40" y2="141.82" stroke="#000" stroke-width="1.9"/>
<line x1="199.30" y1="17.50" x2="205.50" y2="17.50" stroke="#000" stroke-width="1.9"/>
<text x="197.80" y="22.05" font-size="8.8" font-weight="bold" text-anchor="end" fill="#000">0</text>
<line x1="199.30" y1="58.94" x2="205.50" y2="58.94" stroke="#000" stroke-width="1.9"/>
<text x="197.80" y="60.09" font-size="8.8" font-weight="bold" text-anchor="end" fill="#000">7</text>
<line x1="199.30" y1="100.38" x2="205.50" y2="100.38" stroke="#000" stroke-width="1.9"/>
<text x="197.80" y="103.93" font-size="8.8" font-weight="bold" text-anchor="end" fill="#000">14</text>
<line x1="199.30" y1="141.82" x2="205.50" y2="141.82" stroke="#000" stroke-width="1.9"/>
<text x="197.80" y="143.47" font-size="8.8" font-weight="bold" text-anchor="end" fill="#000">21</text>
<line x1="205.50" y1="141.82" x2="205.50" y2="147.42" stroke="#000" stroke-width="1.9"/>
<text x="205.50" y="156.85" font-size="10.2" font-weight="bold" text-anchor="middle" fill="#000">0</text>
<line x1="275.82" y1="141.82" x2="275.82" y2="147.42" stroke="#000" stroke-width="1.9"/>
<text x="275.82" y="156.85" font-size="10.2" font-weight="bold" text-anchor="middle" fill="#000">12</text>
<line x1="346.14" y1="141.82" x2="346.14" y2="147.42" stroke="#000" stroke-width="1.9"/>
<text x="346.14" y="156.85" font-size="10.2" font-weight="bold" text-anchor="middle" fill="#000">24</text>
<text x="278.80" y="12.89" font-size="10.3" font-weight="bold" text-anchor="middle" fill="#000">dLAN</text>
<text x="178.50" y="175.02" font-size="10.4" font-weight="bold" text-anchor="middle" fill="#000">Zeigeber time (hours)</text>
<text x="9.78" y="68.50" font-size="11.4" font-weight="bold" text-anchor="middle" fill="#000" transform="rotate(-90 9.78 68.50)">Days</text>
<clipPath id="clip550"><rect x="220" y="378.1" width="128.89999999999998" height="131.5"/></clipPath>
<line x1="220.00" y1="488.20" x2="348.90" y2="488.20" stroke="#f4f4f4" stroke-width="0.8"/>
<line x1="220.00" y1="455.40" x2="348.90" y2="455.40" stroke="#f4f4f4" stroke-width="0.8"/>
<line x1="220.00" y1="422.70" x2="348.90" y2="422.70" stroke="#f4f4f4" stroke-width="0.8"/>
<line x1="220.00" y1="389.90" x2="348.90" y2="389.90" stroke="#f4f4f4" stroke-width="0.8"/>
<line x1="244.00" y1="378.10" x2="244.00" y2="509.60" stroke="#f4f4f4" stroke-width="0.8"/>
<line x1="280.80" y1="378.10" x2="280.80" y2="509.60" stroke="#f4f4f4" stroke-width="0.8"/>
<line x1="317.60" y1="378.10" x2="317.60" y2="509.60" stroke="#f4f4f4" stroke-width="0.8"/>
<line x1="220.00" y1="504.60" x2="348.90" y2="504.60" stroke="#f1f1f1" stroke-width="1.0"/>
<line x1="220.00" y1="471.80" x2="348.90" y2="471.80" stroke="#f1f1f1" stroke-width="1.0"/>
<line x1="220.00" y1="439.00" x2="348.90" y2="439.00" stroke="#f1f1f1" stroke-width="1.0"/>
<line x1="220.00" y1="406.30" x2="348.90" y2="406.30" stroke="#f1f1f1" stroke-width="1.0"/>
<line x1="225.60" y1="378.10" x2="225.60" y2="509.60" stroke="#f1f1f1" stroke-width="1.0"/>
<line x1="262.40" y1="378.10" x2="262.40" y2="509.60" stroke="#f1f1f1" stroke-width="1.0"/>
<line x1="299.20" y1="378.10" x2="299.20" y2="509.60" stroke="#f1f1f1" stroke-width="1.0"/>
<line x1="336.00" y1="378.10" x2="336.00" y2="509.60" stroke="#f1f1f1" stroke-width="1.0"/>
<path d="M237.40 434.94 L239.52 434.35 L241.63 433.74 L243.75 433.13 L245.86 432.51 L247.98 431.87 L250.09 431.21 L252.21 430.53 L254.32 429.83 L256.44 429.10 L258.55 428.34 L260.67 427.55 L262.78 426.72 L264.90 425.84 L267.02 424.90 L269.13 423.91 L271.25 422.85 L273.36 421.71 L275.48 420.48 L277.59 419.17 L279.71 417.75 L281.82 416.25 L283.94 414.64 L286.05 412.94 L288.17 411.15 L290.28 409.28 L292.40 407.34 L294.52 405.32 L296.63 403.26 L298.75 401.13 L300.86 398.97 L302.98 396.76 L305.09 394.53 L307.21 392.26 L309.32 389.97 L311.44 387.66 L313.55 385.32 L315.67 382.98 L317.78 380.61 L319.90 378.24 L319.90 421.78 L317.78 422.39 L315.67 423.01 L313.55 423.64 L311.44 424.30 L309.32 424.97 L307.21 425.66 L305.09 426.38 L302.98 427.13 L300.86 427.91 L298.75 428.73 L296.63 429.59 L294.52 430.50 L292.40 431.48 L290.28 432.52 L288.17 433.63 L286.05 434.83 L283.94 436.11 L281.82 437.49 L279.71 438.97 L277.59 440.54 L275.48 442.21 L273.36 443.97 L271.25 445.81 L269.13 447.73 L267.02 449.72 L264.90 451.77 L262.78 453.88 L260.67 456.03 L258.55 458.22 L256.44 460.45 L254.32 462.70 L252.21 464.99 L250.09 467.29 L247.98 469.62 L245.86 471.96 L243.75 474.32 L241.63 476.70 L239.52 479.08 L237.40 481.47Z" fill="#999999" fill-opacity="0.41" clip-path="url(#clip550)"/>
<circle cx="237.40" cy="457.90" r="1.15" fill="#000"/>
<circle cx="270.10" cy="421.30" r="1.15" fill="#000"/>
<circle cx="282.90" cy="409.80" r="1.15" fill="#000"/>
<circle cx="270.80" cy="454.50" r="1.15" fill="#000"/>
<circle cx="278.80" cy="433.80" r="1.15" fill="#000"/>
<circle cx="290.30" cy="425.90" r="1.15" fill="#000"/>
<circle cx="293.10" cy="418.80" r="1.15" fill="#000"/>
<circle cx="319.90" cy="400.90" r="1.15" fill="#000"/>
<line x1="237.40" y1="458.20" x2="319.90" y2="400.01" stroke="#d4604c" stroke-width="1.1" clip-path="url(#clip550)"/>
<text x="226.20" y="520.14" font-size="9.9" font-weight="bold" text-anchor="middle" fill="#111">0</text>
<text x="263.40" y="520.14" font-size="9.9" font-weight="bold" text-anchor="middle" fill="#111">4</text>
<text x="300.80" y="520.14" font-size="9.9" font-weight="bold" text-anchor="middle" fill="#111">8</text>
<text x="339.70" y="520.14" font-size="9.9" font-weight="bold" text-anchor="middle" fill="#111">12</text>
<text x="218.70" y="509.84" font-size="9.9" font-weight="bold" text-anchor="end" fill="#111">0</text>
<text x="220.80" y="477.04" font-size="9.9" font-weight="bold" text-anchor="end" fill="#111">30</text>
<text x="220.80" y="444.24" font-size="9.9" font-weight="bold" text-anchor="end" fill="#111">60</text>
<text x="220.80" y="411.54" font-size="9.9" font-weight="bold" text-anchor="end" fill="#111">90</text>
<text transform="translate(330.50 469.11) scale(1 1.11)" font-size="11.6" text-anchor="end" fill="#d4604c">Slope = 6.10</text>
<text transform="translate(330.50 484.11) scale(1 1.11)" font-size="11.6" text-anchor="end" fill="#d4604c">p = 0.01</text>
<text transform="translate(267.70 540.29) scale(1 1.11)" font-size="11.8" text-anchor="middle" fill="#000">Amplitude</text>
<text transform="translate(200.24 449.40) rotate(-90) scale(1 1.05)" font-size="11.8" text-anchor="middle" fill="#000">Sucrose Preference (%)</text>
<clipPath id="clip588"><rect x="366" y="378.6" width="126.69999999999999" height="131.0"/></clipPath>
<line x1="366.00" y1="488.20" x2="492.70" y2="488.20" stroke="#f4f4f4" stroke-width="0.8"/>
<line x1="366.00" y1="455.40" x2="492.70" y2="455.40" stroke="#f4f4f4" stroke-width="0.8"/>
<line x1="366.00" y1="422.70" x2="492.70" y2="422.70" stroke="#f4f4f4" stroke-width="0.8"/>
<line x1="366.00" y1="389.90" x2="492.70" y2="389.90" stroke="#f4f4f4" stroke-width="0.8"/>
<line x1="392.20" y1="378.60" x2="392.20" y2="509.60" stroke="#f4f4f4" stroke-width="0.8"/>
<line x1="437.30" y1="378.60" x2="437.30" y2="509.60" stroke="#f4f4f4" stroke-width="0.8"/>
<line x1="481.50" y1="378.60" x2="481.50" y2="509.60" stroke="#f4f4f4" stroke-width="0.8"/>
<line x1="366.00" y1="504.60" x2="492.70" y2="504.60" stroke="#f1f1f1" stroke-width="1.0"/>
<line x1="366.00" y1="471.80" x2="492.70" y2="471.80" stroke="#f1f1f1" stroke-width="1.0"/>
<line x1="366.00" y1="439.00" x2="492.70" y2="439.00" stroke="#f1f1f1" stroke-width="1.0"/>
<line x1="366.00" y1="406.30" x2="492.70" y2="406.30" stroke="#f1f1f1" stroke-width="1.0"/>
<line x1="369.90" y1="378.60" x2="369.90" y2="509.60" stroke="#f1f1f1" stroke-width="1.0"/>
<line x1="415.00" y1="378.60" x2="415.00" y2="509.60" stroke="#f1f1f1" stroke-width="1.0"/>
<line x1="459.20" y1="378.60" x2="459.20" y2="509.60" stroke="#f1f1f1" stroke-width="1.0"/>
<path d="M387.20 414.40 L389.66 414.58 L392.13 414.73 L394.59 414.86 L397.06 414.95 L399.52 415.00 L401.98 415.02 L404.45 414.99 L406.91 414.91 L409.38 414.78 L411.84 414.58 L414.31 414.33 L416.77 414.00 L419.23 413.59 L421.70 413.11 L424.16 412.54 L426.63 411.89 L429.09 411.15 L431.55 410.33 L434.02 409.42 L436.48 408.43 L438.95 407.36 L441.41 406.22 L443.87 405.01 L446.34 403.74 L448.80 402.42 L451.27 401.04 L453.73 399.61 L456.19 398.14 L458.66 396.64 L461.12 395.10 L463.59 393.53 L466.05 391.93 L468.52 390.31 L470.98 388.67 L473.44 387.01 L475.91 385.33 L478.37 383.63 L480.84 381.92 L483.30 380.20 L483.30 442.87 L480.84 442.58 L478.37 442.30 L475.91 442.04 L473.44 441.79 L470.98 441.56 L468.52 441.35 L466.05 441.16 L463.59 440.99 L461.12 440.86 L458.66 440.75 L456.19 440.67 L453.73 440.64 L451.27 440.64 L448.80 440.69 L446.34 440.80 L443.87 440.96 L441.41 441.18 L438.95 441.47 L436.48 441.84 L434.02 442.28 L431.55 442.80 L429.09 443.41 L426.63 444.10 L424.16 444.88 L421.70 445.74 L419.23 446.69 L416.77 447.72 L414.31 448.82 L411.84 450.00 L409.38 451.23 L406.91 452.53 L404.45 453.89 L401.98 455.29 L399.52 456.73 L397.06 458.22 L394.59 459.74 L392.13 461.30 L389.66 462.88 L387.20 464.49Z" fill="#999999" fill-opacity="0.41" clip-path="url(#clip588)"/>
<circle cx="387.20" cy="454.60" r="1.15" fill="#000"/>
<circle cx="395.40" cy="421.30" r="1.15" fill="#000"/>
<circle cx="406.30" cy="433.50" r="1.15" fill="#000"/>
<circle cx="412.50" cy="418.80" r="1.15" fill="#000"/>
<circle cx="424.00" cy="458.00" r="1.15" fill="#000"/>
<circle cx="430.90" cy="409.60" r="1.15" fill="#000"/>
<circle cx="478.10" cy="425.80" r="1.15" fill="#000"/>
<circle cx="483.30" cy="401.00" r="1.15" fill="#000"/>
<line x1="387.20" y1="439.45" x2="483.30" y2="411.54" stroke="#d4604c" stroke-width="1.1" clip-path="url(#clip588)"/>
<text x="372.80" y="520.14" font-size="9.9" font-weight="bold" text-anchor="middle" fill="#111">2000</text>
<text x="418.20" y="520.14" font-size="9.9" font-weight="bold" text-anchor="middle" fill="#111">3000</text>
<text x="464.10" y="520.14" font-size="9.9" font-weight="bold" text-anchor="middle" fill="#111">4000</text>
<text x="363.30" y="509.84" font-size="9.9" font-weight="bold" text-anchor="end" fill="#111">0</text>
<text x="364.60" y="477.04" font-size="9.9" font-weight="bold" text-anchor="end" fill="#111">30</text>
<text x="364.60" y="444.24" font-size="9.9" font-weight="bold" text-anchor="end" fill="#111">60</text>
<text x="364.60" y="411.54" font-size="9.9" font-weight="bold" text-anchor="end" fill="#111">90</text>
<text transform="translate(473.30 468.31) scale(1 1.11)" font-size="11.6" text-anchor="end" fill="#d4604c">Slope = 0.01</text>
<text transform="translate(473.30 482.51) scale(1 1.11)" font-size="11.6" text-anchor="end" fill="#d4604c">p = 0.19</text>
<text transform="translate(424.40 539.89) scale(1 1.11)" font-size="11.8" text-anchor="middle" fill="#000">Daily activity (counts)</text>
<clipPath id="clip623"><rect x="511" y="378.3" width="128" height="131.59999999999997"/></clipPath>
<line x1="511.00" y1="488.20" x2="639.00" y2="488.20" stroke="#f4f4f4" stroke-width="0.8"/>
<line x1="511.00" y1="455.40" x2="639.00" y2="455.40" stroke="#f4f4f4" stroke-width="0.8"/>
<line x1="511.00" y1="422.70" x2="639.00" y2="422.70" stroke="#f4f4f4" stroke-width="0.8"/>
<line x1="511.00" y1="389.90" x2="639.00" y2="389.90" stroke="#f4f4f4" stroke-width="0.8"/>
<line x1="545.40" y1="378.30" x2="545.40" y2="509.90" stroke="#f4f4f4" stroke-width="0.8"/>
<line x1="587.50" y1="378.30" x2="587.50" y2="509.90" stroke="#f4f4f4" stroke-width="0.8"/>
<line x1="629.20" y1="378.30" x2="629.20" y2="509.90" stroke="#f4f4f4" stroke-width="0.8"/>
<line x1="511.00" y1="504.60" x2="639.00" y2="504.60" stroke="#f1f1f1" stroke-width="1.0"/>
<line x1="511.00" y1="471.80" x2="639.00" y2="471.80" stroke="#f1f1f1" stroke-width="1.0"/>
<line x1="511.00" y1="439.00" x2="639.00" y2="439.00" stroke="#f1f1f1" stroke-width="1.0"/>
<line x1="511.00" y1="406.30" x2="639.00" y2="406.30" stroke="#f1f1f1" stroke-width="1.0"/>
<line x1="524.50" y1="378.30" x2="524.50" y2="509.90" stroke="#f1f1f1" stroke-width="1.0"/>
<line x1="566.40" y1="378.30" x2="566.40" y2="509.90" stroke="#f1f1f1" stroke-width="1.0"/>
<line x1="608.30" y1="378.30" x2="608.30" y2="509.90" stroke="#f1f1f1" stroke-width="1.0"/>
<path d="M523.10 426.34 L525.78 425.94 L528.46 425.52 L531.15 425.07 L533.83 424.59 L536.51 424.09 L539.19 423.54 L541.87 422.95 L544.56 422.32 L547.24 421.63 L549.92 420.89 L552.60 420.08 L555.28 419.19 L557.97 418.24 L560.65 417.20 L563.33 416.08 L566.01 414.87 L568.69 413.57 L571.38 412.20 L574.06 410.74 L576.74 409.21 L579.42 407.61 L582.11 405.94 L584.79 404.22 L587.47 402.44 L590.15 400.62 L592.83 398.76 L595.52 396.87 L598.20 394.94 L600.88 392.98 L603.56 391.00 L606.24 389.00 L608.93 386.97 L611.61 384.94 L614.29 382.88 L616.97 380.81 L619.65 378.73 L622.34 376.64 L625.02 374.54 L627.70 372.43 L627.70 426.61 L625.02 426.90 L622.34 427.19 L619.65 427.50 L616.97 427.82 L614.29 428.15 L611.61 428.50 L608.93 428.85 L606.24 429.23 L603.56 429.63 L600.88 430.04 L598.20 430.49 L595.52 430.96 L592.83 431.46 L590.15 432.00 L587.47 432.57 L584.79 433.20 L582.11 433.87 L579.42 434.61 L576.74 435.40 L574.06 436.27 L571.38 437.21 L568.69 438.23 L566.01 439.34 L563.33 440.53 L560.65 441.81 L557.97 443.17 L555.28 444.61 L552.60 446.13 L549.92 447.71 L547.24 449.37 L544.56 451.08 L541.87 452.84 L539.19 454.65 L536.51 456.51 L533.83 458.40 L531.15 460.32 L528.46 462.27 L525.78 464.25 L523.10 466.25Z" fill="#999999" fill-opacity="0.41" clip-path="url(#clip623)"/>
<circle cx="523.10" cy="458.00" r="1.15" fill="#000"/>
<circle cx="536.20" cy="454.50" r="1.15" fill="#000"/>
<circle cx="542.90" cy="421.20" r="1.15" fill="#000"/>
<circle cx="557.80" cy="433.90" r="1.15" fill="#000"/>
<circle cx="563.40" cy="418.50" r="1.15" fill="#000"/>
<circle cx="565.40" cy="409.60" r="1.15" fill="#000"/>
<circle cx="598.70" cy="425.70" r="1.15" fill="#000"/>
<circle cx="627.70" cy="401.20" r="1.15" fill="#000"/>
<line x1="523.10" y1="446.29" x2="627.70" y2="399.52" stroke="#d4604c" stroke-width="1.1" clip-path="url(#clip623)"/>
<text x="527.90" y="520.54" font-size="9.9" font-weight="bold" text-anchor="middle" fill="#111">2000</text>
<text x="569.70" y="520.54" font-size="9.9" font-weight="bold" text-anchor="middle" fill="#111">3000</text>
<text x="611.40" y="520.54" font-size="9.9" font-weight="bold" text-anchor="middle" fill="#111">4000</text>
<text x="509.80" y="509.84" font-size="9.9" font-weight="bold" text-anchor="end" fill="#111">0</text>
<text x="511.30" y="477.04" font-size="9.9" font-weight="bold" text-anchor="end" fill="#111">30</text>
<text x="511.30" y="444.24" font-size="9.9" font-weight="bold" text-anchor="end" fill="#111">60</text>
<text x="511.30" y="411.54" font-size="9.9" font-weight="bold" text-anchor="end" fill="#111">90</text>
<text transform="translate(634.30 468.11) scale(1 1.11)" font-size="11.6" text-anchor="end" fill="#d4604c">Slope = 0.02</text>
<text transform="translate(634.30 482.51) scale(1 1.11)" font-size="11.6" text-anchor="end" fill="#d4604c">p = 0.03</text>
<text transform="translate(583.90 540.01) scale(1 1.11)" font-size="11.6" text-anchor="middle" fill="#000">Nighttime activity (counts)</text>
<clipPath id="clip658"><rect x="217.6" y="557.5" width="126.20000000000002" height="133.20000000000005"/></clipPath>
<line x1="217.60" y1="661.00" x2="343.80" y2="661.00" stroke="#f4f4f4" stroke-width="0.8"/>
<line x1="217.60" y1="614.10" x2="343.80" y2="614.10" stroke="#f4f4f4" stroke-width="0.8"/>
<line x1="217.60" y1="567.20" x2="343.80" y2="567.20" stroke="#f4f4f4" stroke-width="0.8"/>
<line x1="242.60" y1="557.50" x2="242.60" y2="690.70" stroke="#f4f4f4" stroke-width="0.8"/>
<line x1="279.80" y1="557.50" x2="279.80" y2="690.70" stroke="#f4f4f4" stroke-width="0.8"/>
<line x1="316.50" y1="557.50" x2="316.50" y2="690.70" stroke="#f4f4f4" stroke-width="0.8"/>
<line x1="217.60" y1="683.90" x2="343.80" y2="683.90" stroke="#f1f1f1" stroke-width="1.0"/>
<line x1="217.60" y1="637.40" x2="343.80" y2="637.40" stroke="#f1f1f1" stroke-width="1.0"/>
<line x1="217.60" y1="591.00" x2="343.80" y2="591.00" stroke="#f1f1f1" stroke-width="1.0"/>
<line x1="224.70" y1="557.50" x2="224.70" y2="690.70" stroke="#f1f1f1" stroke-width="1.0"/>
<line x1="261.20" y1="557.50" x2="261.20" y2="690.70" stroke="#f1f1f1" stroke-width="1.0"/>
<line x1="298.40" y1="557.50" x2="298.40" y2="690.70" stroke="#f1f1f1" stroke-width="1.0"/>
<line x1="335.20" y1="557.50" x2="335.20" y2="690.70" stroke="#f1f1f1" stroke-width="1.0"/>
<path d="M236.10 560.15 L238.18 562.78 L240.25 565.40 L242.33 568.00 L244.41 570.58 L246.48 573.15 L248.56 575.69 L250.64 578.20 L252.72 580.68 L254.79 583.13 L256.87 585.54 L258.95 587.89 L261.02 590.20 L263.10 592.44 L265.18 594.61 L267.25 596.70 L269.33 598.70 L271.41 600.59 L273.48 602.38 L275.56 604.04 L277.64 605.57 L279.72 606.98 L281.79 608.26 L283.87 609.42 L285.95 610.45 L288.02 611.39 L290.10 612.22 L292.18 612.97 L294.25 613.64 L296.33 614.24 L298.41 614.79 L300.48 615.28 L302.56 615.73 L304.64 616.14 L306.72 616.52 L308.79 616.87 L310.87 617.20 L312.95 617.51 L315.02 617.79 L317.10 618.06 L317.10 675.94 L315.02 673.33 L312.95 670.74 L310.87 668.17 L308.79 665.62 L306.72 663.09 L304.64 660.59 L302.56 658.13 L300.48 655.70 L298.41 653.32 L296.33 650.98 L294.25 648.71 L292.18 646.50 L290.10 644.37 L288.02 642.33 L285.95 640.38 L283.87 638.54 L281.79 636.82 L279.72 635.22 L277.64 633.75 L275.56 632.41 L273.48 631.19 L271.41 630.10 L269.33 629.11 L267.25 628.23 L265.18 627.44 L263.10 626.74 L261.02 626.10 L258.95 625.53 L256.87 625.01 L254.79 624.54 L252.72 624.11 L250.64 623.71 L248.56 623.35 L246.48 623.01 L244.41 622.69 L242.33 622.40 L240.25 622.12 L238.18 621.86 L236.10 621.61Z" fill="#999999" fill-opacity="0.41" clip-path="url(#clip658)"/>
<circle cx="236.10" cy="599.30" r="1.15" fill="#000"/>
<circle cx="276.20" cy="591.10" r="1.15" fill="#000"/>
<circle cx="268.80" cy="608.20" r="1.15" fill="#000"/>
<circle cx="267.30" cy="611.50" r="1.15" fill="#000"/>
<circle cx="288.00" cy="615.60" r="1.15" fill="#000"/>
<circle cx="280.80" cy="643.00" r="1.15" fill="#000"/>
<circle cx="291.00" cy="640.90" r="1.15" fill="#000"/>
<circle cx="317.10" cy="650.60" r="1.15" fill="#000"/>
<line x1="236.10" y1="590.88" x2="317.10" y2="647.00" stroke="#2020f0" stroke-width="1.1" clip-path="url(#clip658)"/>
<text x="224.80" y="699.94" font-size="9.9" font-weight="bold" text-anchor="middle" fill="#111">0</text>
<text x="261.90" y="699.94" font-size="9.9" font-weight="bold" text-anchor="middle" fill="#111">4</text>
<text x="295.40" y="698.94" font-size="9.9" font-weight="bold" text-anchor="middle" fill="#111">8</text>
<text x="336.90" y="701.24" font-size="9.9" font-weight="bold" text-anchor="middle" fill="#111">12</text>
<text x="217.60" y="689.14" font-size="9.9" font-weight="bold" text-anchor="end" fill="#111">0</text>
<text x="221.30" y="642.64" font-size="9.9" font-weight="bold" text-anchor="end" fill="#111">100</text>
<text x="221.30" y="596.24" font-size="9.9" font-weight="bold" text-anchor="end" fill="#111">200</text>
<text transform="translate(305.90 661.35) scale(1 1.11)" font-size="11.7" text-anchor="end" fill="#2020f0">Slope = −13.82</text>
<text transform="translate(305.90 675.05) scale(1 1.11)" font-size="11.7" text-anchor="end" fill="#2020f0">p = 0.04</text>
<text transform="translate(270.60 718.49) scale(1 1.11)" font-size="11.8" text-anchor="middle" fill="#000">Amplitude</text>
<text transform="translate(197.44 628.80) rotate(-90) scale(1 1.05)" font-size="11.8" text-anchor="middle" fill="#000">Immobility Time (s)</text>
<clipPath id="clip693"><rect x="365" y="557.5" width="127" height="133.20000000000005"/></clipPath>
<line x1="365.00" y1="661.00" x2="492.00" y2="661.00" stroke="#f4f4f4" stroke-width="0.8"/>
<line x1="365.00" y1="614.10" x2="492.00" y2="614.10" stroke="#f4f4f4" stroke-width="0.8"/>
<line x1="365.00" y1="567.20" x2="492.00" y2="567.20" stroke="#f4f4f4" stroke-width="0.8"/>
<line x1="393.40" y1="557.50" x2="393.40" y2="690.70" stroke="#f4f4f4" stroke-width="0.8"/>
<line x1="437.40" y1="557.50" x2="437.40" y2="690.70" stroke="#f4f4f4" stroke-width="0.8"/>
<line x1="481.50" y1="557.50" x2="481.50" y2="690.70" stroke="#f4f4f4" stroke-width="0.8"/>
<line x1="365.00" y1="683.90" x2="492.00" y2="683.90" stroke="#f1f1f1" stroke-width="1.0"/>
<line x1="365.00" y1="637.40" x2="492.00" y2="637.40" stroke="#f1f1f1" stroke-width="1.0"/>
<line x1="365.00" y1="591.00" x2="492.00" y2="591.00" stroke="#f1f1f1" stroke-width="1.0"/>
<line x1="371.80" y1="557.50" x2="371.80" y2="690.70" stroke="#f1f1f1" stroke-width="1.0"/>
<line x1="415.80" y1="557.50" x2="415.80" y2="690.70" stroke="#f1f1f1" stroke-width="1.0"/>
<line x1="459.70" y1="557.50" x2="459.70" y2="690.70" stroke="#f1f1f1" stroke-width="1.0"/>
<path d="M388.00 579.21 L390.44 580.97 L392.89 582.70 L395.33 584.39 L397.77 586.05 L400.22 587.67 L402.66 589.25 L405.11 590.77 L407.55 592.24 L409.99 593.66 L412.44 595.00 L414.88 596.27 L417.32 597.46 L419.77 598.57 L422.21 599.59 L424.65 600.52 L427.10 601.35 L429.54 602.08 L431.98 602.71 L434.43 603.25 L436.87 603.69 L439.32 604.05 L441.76 604.33 L444.20 604.52 L446.65 604.65 L449.09 604.71 L451.53 604.72 L453.98 604.67 L456.42 604.57 L458.86 604.43 L461.31 604.25 L463.75 604.04 L466.19 603.79 L468.64 603.52 L471.08 603.23 L473.53 602.91 L475.97 602.57 L478.41 602.21 L480.86 601.84 L483.30 601.45 L483.30 671.75 L480.86 669.87 L478.41 668.00 L475.97 666.15 L473.53 664.32 L471.08 662.51 L468.64 660.72 L466.19 658.96 L463.75 657.22 L461.31 655.52 L458.86 653.85 L456.42 652.21 L453.98 650.62 L451.53 649.08 L449.09 647.59 L446.65 646.16 L444.20 644.80 L441.76 643.50 L439.32 642.29 L436.87 641.15 L434.43 640.11 L431.98 639.15 L429.54 638.29 L427.10 637.53 L424.65 636.87 L422.21 636.30 L419.77 635.83 L417.32 635.45 L414.88 635.15 L412.44 634.93 L409.99 634.78 L407.55 634.70 L405.11 634.68 L402.66 634.71 L400.22 634.80 L397.77 634.92 L395.33 635.09 L392.89 635.29 L390.44 635.53 L388.00 635.79Z" fill="#999999" fill-opacity="0.41" clip-path="url(#clip693)"/>
<circle cx="388.00" cy="607.50" r="1.15" fill="#000"/>
<circle cx="396.40" cy="611.20" r="1.15" fill="#000"/>
<circle cx="407.10" cy="590.90" r="1.15" fill="#000"/>
<circle cx="425.00" cy="598.80" r="1.15" fill="#000"/>
<circle cx="413.80" cy="640.50" r="1.15" fill="#000"/>
<circle cx="431.90" cy="643.00" r="1.15" fill="#000"/>
<circle cx="478.10" cy="615.00" r="1.15" fill="#000"/>
<circle cx="483.30" cy="650.70" r="1.15" fill="#000"/>
<line x1="388.00" y1="607.50" x2="483.30" y2="636.60" stroke="#2020f0" stroke-width="1.1" clip-path="url(#clip693)"/>
<text x="373.60" y="700.34" font-size="9.9" font-weight="bold" text-anchor="middle" fill="#111">2000</text>
<text x="418.20" y="700.34" font-size="9.9" font-weight="bold" text-anchor="middle" fill="#111">3000</text>
<text x="464.10" y="700.34" font-size="9.9" font-weight="bold" text-anchor="middle" fill="#111">4000</text>
<text x="364.30" y="689.14" font-size="9.9" font-weight="bold" text-anchor="end" fill="#111">0</text>
<text x="367.80" y="642.64" font-size="9.9" font-weight="bold" text-anchor="end" fill="#111">100</text>
<text x="367.80" y="596.24" font-size="9.9" font-weight="bold" text-anchor="end" fill="#111">200</text>
<text transform="translate(446.30 659.25) scale(1 1.11)" font-size="11.7" text-anchor="end" fill="#2020f0">Slope = −0.03</text>
<text transform="translate(446.30 673.15) scale(1 1.11)" font-size="11.7" text-anchor="end" fill="#2020f0">p = 0.22</text>
<text transform="translate(424.40 719.09) scale(1 1.11)" font-size="11.8" text-anchor="middle" fill="#000">Daily activity (counts)</text>
<clipPath id="clip725"><rect x="513" y="557.5" width="128" height="133.20000000000005"/></clipPath>
<line x1="513.00" y1="661.00" x2="641.00" y2="661.00" stroke="#f4f4f4" stroke-width="0.8"/>
<line x1="513.00" y1="614.10" x2="641.00" y2="614.10" stroke="#f4f4f4" stroke-width="0.8"/>
<line x1="513.00" y1="567.20" x2="641.00" y2="567.20" stroke="#f4f4f4" stroke-width="0.8"/>
<line x1="548.50" y1="557.50" x2="548.50" y2="690.70" stroke="#f4f4f4" stroke-width="0.8"/>
<line x1="589.50" y1="557.50" x2="589.50" y2="690.70" stroke="#f4f4f4" stroke-width="0.8"/>
<line x1="631.20" y1="557.50" x2="631.20" y2="690.70" stroke="#f4f4f4" stroke-width="0.8"/>
<line x1="513.00" y1="683.90" x2="641.00" y2="683.90" stroke="#f1f1f1" stroke-width="1.0"/>
<line x1="513.00" y1="637.40" x2="641.00" y2="637.40" stroke="#f1f1f1" stroke-width="1.0"/>
<line x1="513.00" y1="591.00" x2="641.00" y2="591.00" stroke="#f1f1f1" stroke-width="1.0"/>
<line x1="527.90" y1="557.50" x2="527.90" y2="690.70" stroke="#f1f1f1" stroke-width="1.0"/>
<line x1="569.10" y1="557.50" x2="569.10" y2="690.70" stroke="#f1f1f1" stroke-width="1.0"/>
<line x1="610.60" y1="557.50" x2="610.60" y2="690.70" stroke="#f1f1f1" stroke-width="1.0"/>
<path d="M526.90 575.90 L529.54 578.00 L532.17 580.07 L534.81 582.10 L537.44 584.09 L540.08 586.04 L542.72 587.94 L545.35 589.79 L547.99 591.57 L550.62 593.29 L553.26 594.93 L555.89 596.48 L558.53 597.95 L561.17 599.32 L563.80 600.59 L566.44 601.75 L569.07 602.81 L571.71 603.76 L574.35 604.62 L576.98 605.37 L579.62 606.04 L582.25 606.61 L584.89 607.11 L587.53 607.54 L590.16 607.91 L592.80 608.22 L595.43 608.48 L598.07 608.69 L600.71 608.86 L603.34 609.00 L605.98 609.10 L608.61 609.18 L611.25 609.23 L613.88 609.26 L616.52 609.28 L619.16 609.27 L621.79 609.25 L624.43 609.21 L627.06 609.16 L629.70 609.10 L629.70 679.70 L627.06 677.44 L624.43 675.20 L621.79 672.97 L619.16 670.75 L616.52 668.55 L613.88 666.37 L611.25 664.20 L608.61 662.06 L605.98 659.94 L603.34 657.85 L600.71 655.80 L598.07 653.77 L595.43 651.79 L592.80 649.85 L590.16 647.97 L587.53 646.14 L584.89 644.37 L582.25 642.68 L579.62 641.06 L576.98 639.53 L574.35 638.09 L571.71 636.75 L569.07 635.51 L566.44 634.37 L563.80 633.34 L561.17 632.42 L558.53 631.59 L555.89 630.86 L553.26 630.22 L550.62 629.67 L547.99 629.19 L545.35 628.77 L542.72 628.43 L540.08 628.13 L537.44 627.89 L534.81 627.69 L532.17 627.52 L529.54 627.39 L526.90 627.30Z" fill="#999999" fill-opacity="0.41" clip-path="url(#clip725)"/>
<circle cx="526.90" cy="597.60" r="1.15" fill="#000"/>
<circle cx="539.80" cy="605.80" r="1.15" fill="#000"/>
<circle cx="546.00" cy="609.50" r="1.15" fill="#000"/>
<circle cx="560.90" cy="589.60" r="1.15" fill="#000"/>
<circle cx="565.90" cy="639.30" r="1.15" fill="#000"/>
<circle cx="568.40" cy="641.70" r="1.15" fill="#000"/>
<circle cx="601.10" cy="614.00" r="1.15" fill="#000"/>
<circle cx="629.70" cy="659.10" r="1.15" fill="#000"/>
<line x1="526.90" y1="601.60" x2="629.70" y2="644.40" stroke="#2020f0" stroke-width="1.1" clip-path="url(#clip725)"/>
<text x="531.20" y="700.34" font-size="9.9" font-weight="bold" text-anchor="middle" fill="#111">2000</text>
<text x="573.10" y="700.34" font-size="9.9" font-weight="bold" text-anchor="middle" fill="#111">3000</text>
<text x="614.30" y="700.34" font-size="9.9" font-weight="bold" text-anchor="middle" fill="#111">4000</text>
<text x="513.20" y="689.14" font-size="9.9" font-weight="bold" text-anchor="end" fill="#111">0</text>
<text x="516.80" y="642.64" font-size="9.9" font-weight="bold" text-anchor="end" fill="#111">100</text>
<text x="516.80" y="596.24" font-size="9.9" font-weight="bold" text-anchor="end" fill="#111">200</text>
<text transform="translate(606.80 659.25) scale(1 1.11)" font-size="11.7" text-anchor="end" fill="#2020f0">Slope = −0.04</text>
<text transform="translate(606.80 673.15) scale(1 1.11)" font-size="11.7" text-anchor="end" fill="#2020f0">p = 0.09</text>
<text transform="translate(587.00 718.31) scale(1 1.11)" font-size="11.6" text-anchor="middle" fill="#000">Nighttime activity (counts)</text>
<clipPath id="clip757"><rect x="48.6" y="754.4" width="133.70000000000002" height="118.10000000000002"/></clipPath>
<line x1="48.60" y1="851.10" x2="182.30" y2="851.10" stroke="#f4f4f4" stroke-width="0.8"/>
<line x1="48.60" y1="822.20" x2="182.30" y2="822.20" stroke="#f4f4f4" stroke-width="0.8"/>
<line x1="48.60" y1="793.20" x2="182.30" y2="793.20" stroke="#f4f4f4" stroke-width="0.8"/>
<line x1="48.60" y1="764.10" x2="182.30" y2="764.10" stroke="#f4f4f4" stroke-width="0.8"/>
<line x1="69.60" y1="754.40" x2="69.60" y2="872.50" stroke="#f4f4f4" stroke-width="0.8"/>
<line x1="99.80" y1="754.40" x2="99.80" y2="872.50" stroke="#f4f4f4" stroke-width="0.8"/>
<line x1="130.10" y1="754.40" x2="130.10" y2="872.50" stroke="#f4f4f4" stroke-width="0.8"/>
<line x1="160.30" y1="754.40" x2="160.30" y2="872.50" stroke="#f4f4f4" stroke-width="0.8"/>
<line x1="48.60" y1="865.60" x2="182.30" y2="865.60" stroke="#f1f1f1" stroke-width="1.0"/>
<line x1="48.60" y1="836.60" x2="182.30" y2="836.60" stroke="#f1f1f1" stroke-width="1.0"/>
<line x1="48.60" y1="807.70" x2="182.30" y2="807.70" stroke="#f1f1f1" stroke-width="1.0"/>
<line x1="48.60" y1="778.60" x2="182.30" y2="778.60" stroke="#f1f1f1" stroke-width="1.0"/>
<line x1="54.60" y1="754.40" x2="54.60" y2="872.50" stroke="#f1f1f1" stroke-width="1.0"/>
<line x1="84.60" y1="754.40" x2="84.60" y2="872.50" stroke="#f1f1f1" stroke-width="1.0"/>
<line x1="115.10" y1="754.40" x2="115.10" y2="872.50" stroke="#f1f1f1" stroke-width="1.0"/>
<line x1="145.30" y1="754.40" x2="145.30" y2="872.50" stroke="#f1f1f1" stroke-width="1.0"/>
<line x1="175.50" y1="754.40" x2="175.50" y2="872.50" stroke="#f1f1f1" stroke-width="1.0"/>
<path d="M64.40 786.15 L66.69 786.30 L68.98 786.43 L71.27 786.53 L73.56 786.60 L75.85 786.64 L78.14 786.65 L80.43 786.62 L82.72 786.54 L85.01 786.42 L87.30 786.25 L89.59 786.01 L91.88 785.72 L94.17 785.36 L96.46 784.93 L98.75 784.43 L101.04 783.85 L103.33 783.20 L105.62 782.47 L107.91 781.67 L110.19 780.79 L112.48 779.85 L114.77 778.84 L117.06 777.77 L119.35 776.65 L121.64 775.48 L123.93 774.26 L126.22 773.00 L128.51 771.70 L130.80 770.37 L133.09 769.01 L135.38 767.62 L137.67 766.21 L139.96 764.77 L142.25 763.32 L144.54 761.85 L146.83 760.37 L149.12 758.87 L151.41 757.35 L153.70 755.83 L153.70 810.86 L151.41 810.62 L149.12 810.38 L146.83 810.16 L144.54 809.95 L142.25 809.76 L139.96 809.58 L137.67 809.43 L135.38 809.29 L133.09 809.18 L130.80 809.10 L128.51 809.04 L126.22 809.02 L123.93 809.04 L121.64 809.10 L119.35 809.20 L117.06 809.36 L114.77 809.57 L112.48 809.84 L110.19 810.17 L107.91 810.57 L105.62 811.05 L103.33 811.60 L101.04 812.22 L98.75 812.92 L96.46 813.70 L94.17 814.54 L91.88 815.46 L89.59 816.45 L87.30 817.49 L85.01 818.60 L82.72 819.75 L80.43 820.95 L78.14 822.20 L75.85 823.48 L73.56 824.80 L71.27 826.15 L68.98 827.53 L66.69 828.93 L64.40 830.36Z" fill="#999999" fill-opacity="0.41" clip-path="url(#clip757)"/>
<circle cx="64.40" cy="821.70" r="1.15" fill="#000"/>
<circle cx="72.30" cy="792.30" r="1.15" fill="#000"/>
<circle cx="82.20" cy="803.00" r="1.15" fill="#000"/>
<circle cx="88.00" cy="789.60" r="1.15" fill="#000"/>
<circle cx="98.80" cy="824.30" r="1.15" fill="#000"/>
<circle cx="105.40" cy="781.80" r="1.15" fill="#000"/>
<circle cx="149.20" cy="795.90" r="1.15" fill="#000"/>
<circle cx="153.70" cy="774.10" r="1.15" fill="#000"/>
<line x1="64.40" y1="808.26" x2="153.70" y2="783.35" stroke="#d4604c" stroke-width="1.1" clip-path="url(#clip757)"/>
<text x="57.10" y="880.19" font-size="9.2" font-weight="bold" text-anchor="middle" fill="#111">1.5</text>
<text x="86.70" y="880.19" font-size="9.2" font-weight="bold" text-anchor="middle" fill="#111">2.0</text>
<text x="116.90" y="880.19" font-size="9.2" font-weight="bold" text-anchor="middle" fill="#111">2.5</text>
<text x="147.10" y="880.19" font-size="9.2" font-weight="bold" text-anchor="middle" fill="#111">3.0</text>
<text x="177.00" y="880.19" font-size="9.2" font-weight="bold" text-anchor="middle" fill="#111">3.5</text>
<text x="52.30" y="870.59" font-size="9.2" font-weight="bold" text-anchor="end" fill="#111">0</text>
<text x="53.70" y="841.59" font-size="9.2" font-weight="bold" text-anchor="end" fill="#111">30</text>
<text x="53.70" y="812.69" font-size="9.2" font-weight="bold" text-anchor="end" fill="#111">60</text>
<text x="53.70" y="783.59" font-size="9.2" font-weight="bold" text-anchor="end" fill="#111">90</text>
<text x="152.40" y="842.44" font-size="11.0" text-anchor="end" fill="#d4604c">Slope = 17.21</text>
<text x="145.80" y="858.24" font-size="11.0" text-anchor="end" fill="#d4604c">p = 0.19</text>
<text x="101.90" y="895.11" font-size="11.2" text-anchor="middle" fill="#000">Mesor</text>
<text transform="translate(35.57 814.90) rotate(-90) scale(1 1.05)" font-size="11.1" text-anchor="middle" fill="#000">Sucrose Preference (%)</text>
<clipPath id="clip798"><rect x="198" y="754.4" width="124.5" height="118.10000000000002"/></clipPath>
<line x1="198.00" y1="851.10" x2="322.50" y2="851.10" stroke="#f4f4f4" stroke-width="0.8"/>
<line x1="198.00" y1="822.20" x2="322.50" y2="822.20" stroke="#f4f4f4" stroke-width="0.8"/>
<line x1="198.00" y1="793.20" x2="322.50" y2="793.20" stroke="#f4f4f4" stroke-width="0.8"/>
<line x1="198.00" y1="764.10" x2="322.50" y2="764.10" stroke="#f4f4f4" stroke-width="0.8"/>
<line x1="221.60" y1="754.40" x2="221.60" y2="872.50" stroke="#f4f4f4" stroke-width="0.8"/>
<line x1="261.80" y1="754.40" x2="261.80" y2="872.50" stroke="#f4f4f4" stroke-width="0.8"/>
<line x1="301.50" y1="754.40" x2="301.50" y2="872.50" stroke="#f4f4f4" stroke-width="0.8"/>
<line x1="198.00" y1="865.60" x2="322.50" y2="865.60" stroke="#f1f1f1" stroke-width="1.0"/>
<line x1="198.00" y1="836.60" x2="322.50" y2="836.60" stroke="#f1f1f1" stroke-width="1.0"/>
<line x1="198.00" y1="807.70" x2="322.50" y2="807.70" stroke="#f1f1f1" stroke-width="1.0"/>
<line x1="198.00" y1="778.60" x2="322.50" y2="778.60" stroke="#f1f1f1" stroke-width="1.0"/>
<line x1="201.70" y1="754.40" x2="201.70" y2="872.50" stroke="#f1f1f1" stroke-width="1.0"/>
<line x1="241.40" y1="754.40" x2="241.40" y2="872.50" stroke="#f1f1f1" stroke-width="1.0"/>
<line x1="281.60" y1="754.40" x2="281.60" y2="872.50" stroke="#f1f1f1" stroke-width="1.0"/>
<line x1="321.80" y1="754.40" x2="321.80" y2="872.50" stroke="#f1f1f1" stroke-width="1.0"/>
<path d="M209.90 784.97 L211.92 785.17 L213.94 785.33 L215.96 785.45 L217.98 785.54 L220.00 785.59 L222.02 785.59 L224.04 785.53 L226.06 785.41 L228.08 785.23 L230.11 784.98 L232.13 784.66 L234.15 784.26 L236.17 783.77 L238.19 783.20 L240.21 782.54 L242.23 781.80 L244.25 780.97 L246.27 780.07 L248.29 779.09 L250.31 778.04 L252.33 776.93 L254.35 775.76 L256.37 774.54 L258.39 773.26 L260.41 771.95 L262.43 770.60 L264.45 769.21 L266.47 767.79 L268.49 766.35 L270.52 764.88 L272.54 763.39 L274.56 761.88 L276.58 760.35 L278.60 758.81 L280.62 757.25 L282.64 755.68 L284.66 754.10 L286.68 752.51 L288.70 750.91 L288.70 814.21 L286.68 813.83 L284.66 813.47 L282.64 813.11 L280.62 812.76 L278.60 812.43 L276.58 812.11 L274.56 811.81 L272.54 811.52 L270.52 811.25 L268.49 811.01 L266.47 810.79 L264.45 810.59 L262.43 810.43 L260.41 810.30 L258.39 810.21 L256.37 810.16 L254.35 810.16 L252.33 810.22 L250.31 810.33 L248.29 810.50 L246.27 810.75 L244.25 811.07 L242.23 811.47 L240.21 811.95 L238.19 812.52 L236.17 813.17 L234.15 813.90 L232.13 814.72 L230.11 815.62 L228.08 816.60 L226.06 817.64 L224.04 818.75 L222.02 819.92 L220.00 821.14 L217.98 822.41 L215.96 823.72 L213.94 825.07 L211.92 826.45 L209.90 827.87Z" fill="#999999" fill-opacity="0.41" clip-path="url(#clip798)"/>
<circle cx="209.90" cy="821.70" r="1.15" fill="#000"/>
<circle cx="213.60" cy="781.80" r="1.15" fill="#000"/>
<circle cx="221.00" cy="792.30" r="1.15" fill="#000"/>
<circle cx="229.10" cy="795.90" r="1.15" fill="#000"/>
<circle cx="231.70" cy="803.00" r="1.15" fill="#000"/>
<circle cx="238.00" cy="824.60" r="1.15" fill="#000"/>
<circle cx="273.00" cy="789.60" r="1.15" fill="#000"/>
<circle cx="288.70" cy="774.10" r="1.15" fill="#000"/>
<line x1="209.90" y1="806.42" x2="288.70" y2="782.56" stroke="#d4604c" stroke-width="1.1" clip-path="url(#clip798)"/>
<text x="203.60" y="879.99" font-size="9.2" font-weight="bold" text-anchor="middle" fill="#111">400</text>
<text x="243.80" y="879.99" font-size="9.2" font-weight="bold" text-anchor="middle" fill="#111">800</text>
<text x="284.90" y="879.99" font-size="9.2" font-weight="bold" text-anchor="middle" fill="#111">1200</text>
<text x="194.30" y="870.59" font-size="9.2" font-weight="bold" text-anchor="end" fill="#111">0</text>
<text x="197.30" y="841.59" font-size="9.2" font-weight="bold" text-anchor="end" fill="#111">30</text>
<text x="197.30" y="812.69" font-size="9.2" font-weight="bold" text-anchor="end" fill="#111">60</text>
<text x="197.30" y="783.59" font-size="9.2" font-weight="bold" text-anchor="end" fill="#111">90</text>
<text x="288.20" y="840.64" font-size="11.0" text-anchor="end" fill="#d4604c">Slope = 0.03</text>
<text x="287.40" y="855.54" font-size="11.0" text-anchor="end" fill="#d4604c">p = 0.24</text>
<text x="259.00" y="894.21" font-size="11.2" text-anchor="middle" fill="#000">Pseudo−F</text>
<clipPath id="clip834"><rect x="358.8" y="748.3" width="154.2" height="120.20000000000005"/></clipPath>
<line x1="358.80" y1="842.20" x2="513.00" y2="842.20" stroke="#f4f4f4" stroke-width="0.8"/>
<line x1="358.80" y1="802.50" x2="513.00" y2="802.50" stroke="#f4f4f4" stroke-width="0.8"/>
<line x1="358.80" y1="762.80" x2="513.00" y2="762.80" stroke="#f4f4f4" stroke-width="0.8"/>
<line x1="383.80" y1="748.30" x2="383.80" y2="868.50" stroke="#f4f4f4" stroke-width="0.8"/>
<line x1="420.40" y1="748.30" x2="420.40" y2="868.50" stroke="#f4f4f4" stroke-width="0.8"/>
<line x1="456.80" y1="748.30" x2="456.80" y2="868.50" stroke="#f4f4f4" stroke-width="0.8"/>
<line x1="493.40" y1="748.30" x2="493.40" y2="868.50" stroke="#f4f4f4" stroke-width="0.8"/>
<line x1="358.80" y1="862.00" x2="513.00" y2="862.00" stroke="#f1f1f1" stroke-width="1.0"/>
<line x1="358.80" y1="822.40" x2="513.00" y2="822.40" stroke="#f1f1f1" stroke-width="1.0"/>
<line x1="358.80" y1="782.60" x2="513.00" y2="782.60" stroke="#f1f1f1" stroke-width="1.0"/>
<line x1="365.20" y1="748.30" x2="365.20" y2="868.50" stroke="#f1f1f1" stroke-width="1.0"/>
<line x1="402.40" y1="748.30" x2="402.40" y2="868.50" stroke="#f1f1f1" stroke-width="1.0"/>
<line x1="438.70" y1="748.30" x2="438.70" y2="868.50" stroke="#f1f1f1" stroke-width="1.0"/>
<line x1="475.30" y1="748.30" x2="475.30" y2="868.50" stroke="#f1f1f1" stroke-width="1.0"/>
<line x1="512.00" y1="748.30" x2="512.00" y2="868.50" stroke="#f1f1f1" stroke-width="1.0"/>
<path d="M376.90 772.42 L379.67 773.93 L382.44 775.41 L385.22 776.86 L387.99 778.29 L390.76 779.68 L393.53 781.03 L396.30 782.34 L399.07 783.60 L401.85 784.81 L404.62 785.96 L407.39 787.05 L410.16 788.08 L412.93 789.03 L415.71 789.90 L418.48 790.70 L421.25 791.41 L424.02 792.03 L426.79 792.58 L429.56 793.04 L432.34 793.42 L435.11 793.73 L437.88 793.96 L440.65 794.13 L443.42 794.24 L446.19 794.29 L448.97 794.29 L451.74 794.25 L454.51 794.16 L457.28 794.04 L460.05 793.89 L462.83 793.70 L465.60 793.49 L468.37 793.25 L471.14 792.99 L473.91 792.72 L476.68 792.42 L479.46 792.11 L482.23 791.79 L485.00 791.45 L485.00 851.89 L482.23 850.28 L479.46 848.68 L476.68 847.09 L473.91 845.52 L471.14 843.97 L468.37 842.44 L465.60 840.92 L462.83 839.44 L460.05 837.97 L457.28 836.54 L454.51 835.14 L451.74 833.78 L448.97 832.46 L446.19 831.19 L443.42 829.96 L440.65 828.80 L437.88 827.69 L435.11 826.65 L432.34 825.68 L429.56 824.78 L426.79 823.97 L424.02 823.24 L421.25 822.59 L418.48 822.02 L415.71 821.54 L412.93 821.14 L410.16 820.82 L407.39 820.56 L404.62 820.38 L401.85 820.26 L399.07 820.19 L396.30 820.18 L393.53 820.21 L390.76 820.29 L387.99 820.40 L385.22 820.55 L382.44 820.73 L379.67 820.93 L376.90 821.16Z" fill="#999999" fill-opacity="0.41" clip-path="url(#clip834)"/>
<circle cx="376.90" cy="796.90" r="1.15" fill="#000"/>
<circle cx="386.60" cy="799.60" r="1.15" fill="#000"/>
<circle cx="398.50" cy="782.40" r="1.15" fill="#000"/>
<circle cx="406.00" cy="825.20" r="1.15" fill="#000"/>
<circle cx="419.00" cy="789.40" r="1.15" fill="#000"/>
<circle cx="426.80" cy="827.40" r="1.15" fill="#000"/>
<circle cx="479.50" cy="803.20" r="1.15" fill="#000"/>
<circle cx="485.00" cy="833.80" r="1.15" fill="#000"/>
<line x1="376.90" y1="796.79" x2="485.00" y2="821.67" stroke="#2020f0" stroke-width="1.1" clip-path="url(#clip834)"/>
<text x="367.70" y="877.79" font-size="9.2" font-weight="bold" text-anchor="middle" fill="#111">1.5</text>
<text x="404.10" y="877.79" font-size="9.2" font-weight="bold" text-anchor="middle" fill="#111">2.0</text>
<text x="439.80" y="877.79" font-size="9.2" font-weight="bold" text-anchor="middle" fill="#111">2.5</text>
<text x="476.70" y="877.79" font-size="9.2" font-weight="bold" text-anchor="middle" fill="#111">3.0</text>
<text x="355.50" y="866.99" font-size="9.2" font-weight="bold" text-anchor="end" fill="#111">0</text>
<text x="361.10" y="827.39" font-size="9.2" font-weight="bold" text-anchor="end" fill="#111">100</text>
<text x="361.10" y="787.59" font-size="9.2" font-weight="bold" text-anchor="end" fill="#111">200</text>
<text x="468.40" y="848.77" font-size="10.8" text-anchor="end" fill="#2020f0">Slope = −41.60</text>
<text x="455.90" y="858.97" font-size="10.8" text-anchor="end" fill="#2020f0">p = 0.22</text>
<text x="417.60" y="894.61" font-size="11.2" text-anchor="middle" fill="#000">Mesor</text>
<text transform="translate(336.41 817.70) rotate(-90) scale(1 1.05)" font-size="11.2" text-anchor="middle" fill="#000">Immobility Time(s)</text>
<clipPath id="clip871"><rect x="536" y="748.3" width="149" height="120.20000000000005"/></clipPath>
<line x1="536.00" y1="842.20" x2="685.00" y2="842.20" stroke="#f4f4f4" stroke-width="0.8"/>
<line x1="536.00" y1="802.50" x2="685.00" y2="802.50" stroke="#f4f4f4" stroke-width="0.8"/>
<line x1="536.00" y1="762.80" x2="685.00" y2="762.80" stroke="#f4f4f4" stroke-width="0.8"/>
<line x1="563.00" y1="748.30" x2="563.00" y2="868.50" stroke="#f4f4f4" stroke-width="0.8"/>
<line x1="612.90" y1="748.30" x2="612.90" y2="868.50" stroke="#f4f4f4" stroke-width="0.8"/>
<line x1="660.60" y1="748.30" x2="660.60" y2="868.50" stroke="#f4f4f4" stroke-width="0.8"/>
<line x1="536.00" y1="862.00" x2="685.00" y2="862.00" stroke="#f1f1f1" stroke-width="1.0"/>
<line x1="536.00" y1="822.40" x2="685.00" y2="822.40" stroke="#f1f1f1" stroke-width="1.0"/>
<line x1="536.00" y1="782.60" x2="685.00" y2="782.60" stroke="#f1f1f1" stroke-width="1.0"/>
<line x1="538.00" y1="748.30" x2="538.00" y2="868.50" stroke="#f1f1f1" stroke-width="1.0"/>
<line x1="587.90" y1="748.30" x2="587.90" y2="868.50" stroke="#f1f1f1" stroke-width="1.0"/>
<line x1="637.90" y1="748.30" x2="637.90" y2="868.50" stroke="#f1f1f1" stroke-width="1.0"/>
<path d="M548.30 774.92 L550.75 776.49 L553.21 778.02 L555.66 779.52 L558.12 780.99 L560.57 782.41 L563.02 783.78 L565.48 785.09 L567.93 786.35 L570.38 787.54 L572.84 788.66 L575.29 789.70 L577.75 790.66 L580.20 791.54 L582.65 792.34 L585.11 793.04 L587.56 793.66 L590.02 794.20 L592.47 794.65 L594.92 795.03 L597.38 795.34 L599.83 795.58 L602.28 795.76 L604.74 795.89 L607.19 795.97 L609.65 796.01 L612.10 796.01 L614.55 795.97 L617.01 795.90 L619.46 795.80 L621.92 795.68 L624.37 795.54 L626.82 795.38 L629.28 795.20 L631.73 795.00 L634.18 794.79 L636.64 794.57 L639.09 794.33 L641.55 794.09 L644.00 793.83 L644.00 858.14 L641.55 856.39 L639.09 854.64 L636.64 852.91 L634.18 851.19 L631.73 849.48 L629.28 847.78 L626.82 846.10 L624.37 844.44 L621.92 842.79 L619.46 841.17 L617.01 839.58 L614.55 838.01 L612.10 836.47 L609.65 834.97 L607.19 833.51 L604.74 832.09 L602.28 830.72 L599.83 829.40 L597.38 828.14 L594.92 826.95 L592.47 825.83 L590.02 824.79 L587.56 823.82 L585.11 822.94 L582.65 822.15 L580.20 821.44 L577.75 820.82 L575.29 820.29 L572.84 819.83 L570.38 819.45 L567.93 819.14 L565.48 818.90 L563.02 818.71 L560.57 818.58 L558.12 818.50 L555.66 818.47 L553.21 818.47 L550.75 818.50 L548.30 818.57Z" fill="#999999" fill-opacity="0.41" clip-path="url(#clip871)"/>
<circle cx="548.30" cy="796.90" r="1.15" fill="#000"/>
<circle cx="552.40" cy="827.40" r="1.15" fill="#000"/>
<circle cx="561.60" cy="799.60" r="1.15" fill="#000"/>
<circle cx="572.10" cy="803.20" r="1.15" fill="#000"/>
<circle cx="575.20" cy="782.40" r="1.15" fill="#000"/>
<circle cx="582.70" cy="789.40" r="1.15" fill="#000"/>
<circle cx="624.80" cy="825.20" r="1.15" fill="#000"/>
<circle cx="644.00" cy="833.80" r="1.15" fill="#000"/>
<line x1="548.30" y1="796.75" x2="644.00" y2="825.99" stroke="#2020f0" stroke-width="1.1" clip-path="url(#clip871)"/>
<text x="539.90" y="877.79" font-size="9.2" font-weight="bold" text-anchor="middle" fill="#111">400</text>
<text x="588.80" y="877.79" font-size="9.2" font-weight="bold" text-anchor="middle" fill="#111">800</text>
<text x="637.90" y="877.79" font-size="9.2" font-weight="bold" text-anchor="middle" fill="#111">1200</text>
<text x="529.60" y="866.99" font-size="9.2" font-weight="bold" text-anchor="end" fill="#111">0</text>
<text x="535.90" y="827.39" font-size="9.2" font-weight="bold" text-anchor="end" fill="#111">100</text>
<text x="535.90" y="787.59" font-size="9.2" font-weight="bold" text-anchor="end" fill="#111">200</text>
<text x="631.50" y="848.77" font-size="10.8" text-anchor="end" fill="#2020f0">Slope = −0.093</text>
<text x="618.40" y="858.97" font-size="10.8" text-anchor="end" fill="#2020f0">p = 0.16</text>
<text x="597.60" y="894.61" font-size="11.2" text-anchor="middle" fill="#000">Pseudo−F</text></svg>
</body></html>
